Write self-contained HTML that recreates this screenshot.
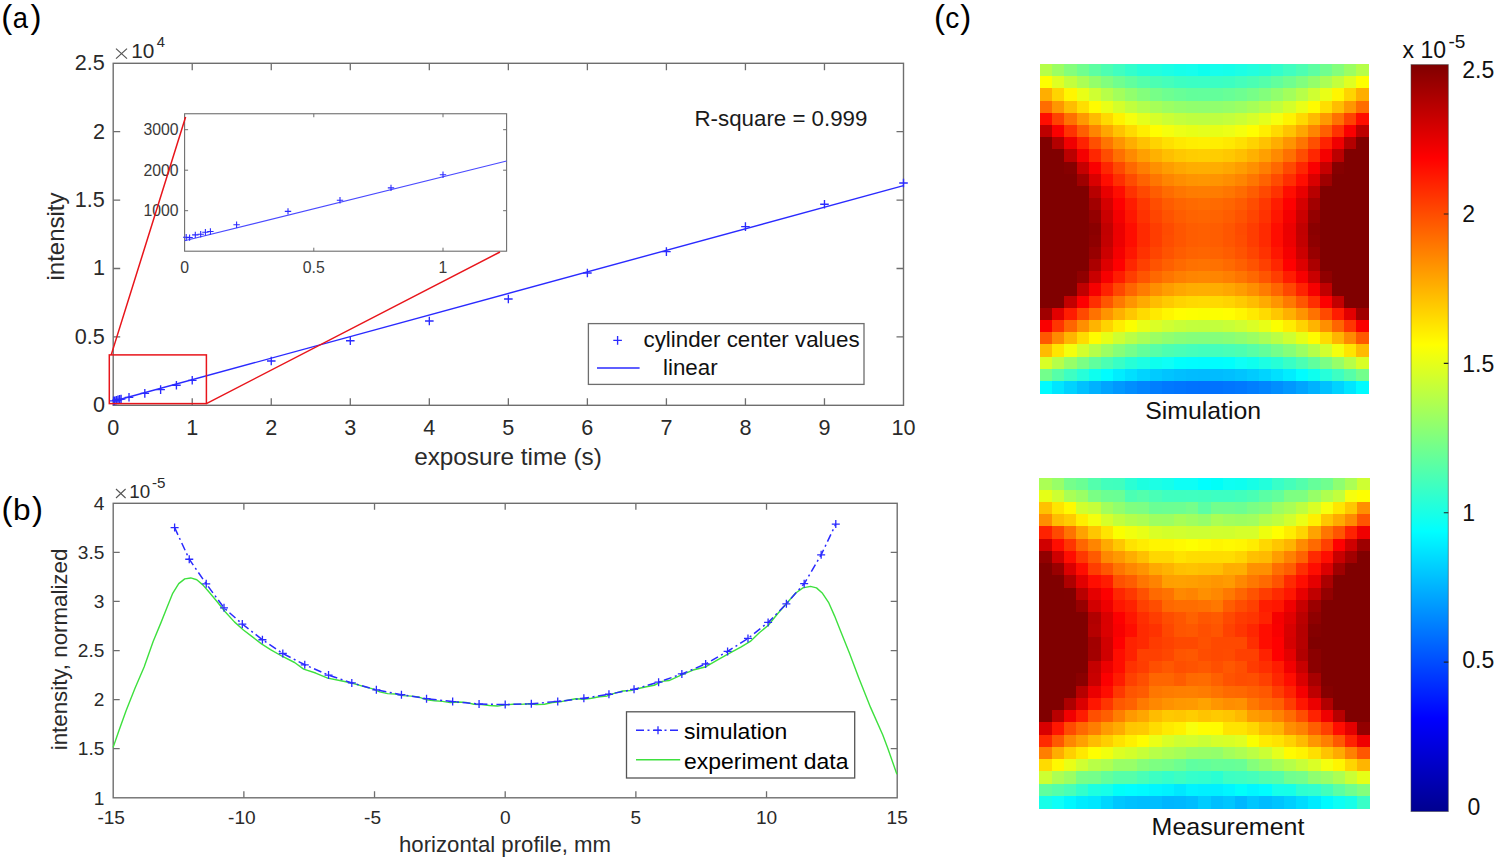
<!DOCTYPE html>
<html><head><meta charset="utf-8"><title>Figure</title>
<style>html,body{margin:0;padding:0;background:#fff}body{width:1500px;height:864px;overflow:hidden}svg{display:block}text{font-family:"Liberation Sans", sans-serif}</style>
</head><body>
<svg width="1500" height="864" viewBox="0 0 1500 864" font-family='"Liberation Sans", sans-serif'>
<rect width="1500" height="864" fill="#fff"/>
<g fill="#000"><text x="1.3" y="28.2" font-size="33">(</text><text x="12.7" y="28.2" font-size="29.5" textLength="15.2" lengthAdjust="spacingAndGlyphs">a</text><text x="30.4" y="28.2" font-size="33">)</text></g>
<g fill="#000"><text x="1.6" y="519.8" font-size="33">(</text><text x="13" y="519.8" font-size="29.5" textLength="17.6" lengthAdjust="spacingAndGlyphs">b</text><text x="32.1" y="519.8" font-size="33">)</text></g>
<g fill="#000"><text x="933.9" y="28.2" font-size="33">(</text><text x="945.2" y="28.2" font-size="29.5" textLength="14.0" lengthAdjust="spacingAndGlyphs">c</text><text x="960.2" y="28.2" font-size="33">)</text></g>
<g id="pa">
<rect x="113.2" y="63.3" width="790.3" height="342" fill="none" stroke="#6e6e6e" stroke-width="1.4"/>
<path d="M192.23 405.3v-7M192.23 63.3v7M271.26 405.3v-7M271.26 63.3v7M350.29 405.3v-7M350.29 63.3v7M429.32 405.3v-7M429.32 63.3v7M508.35 405.3v-7M508.35 63.3v7M587.38 405.3v-7M587.38 63.3v7M666.41 405.3v-7M666.41 63.3v7M745.44 405.3v-7M745.44 63.3v7M824.47 405.3v-7M824.47 63.3v7M113.2 336.9h7M903.5 336.9h-7M113.2 268.5h7M903.5 268.5h-7M113.2 200.1h7M903.5 200.1h-7M113.2 131.7h7M903.5 131.7h-7" stroke="#6e6e6e" stroke-width="1.3" fill="none"/>
<g font-size="21.6" fill="#2a2a2a" text-anchor="middle">
<text x="113.2" y="434.5">0</text>
<text x="192.23" y="434.5">1</text>
<text x="271.26" y="434.5">2</text>
<text x="350.29" y="434.5">3</text>
<text x="429.32" y="434.5">4</text>
<text x="508.35" y="434.5">5</text>
<text x="587.38" y="434.5">6</text>
<text x="666.41" y="434.5">7</text>
<text x="745.44" y="434.5">8</text>
<text x="824.47" y="434.5">9</text>
<text x="903.5" y="434.5">10</text>
</g>
<g font-size="21.6" fill="#2a2a2a" text-anchor="end">
<text x="104.9" y="412.2">0</text>
<text x="104.9" y="343.8">0.5</text>
<text x="104.9" y="275.4">1</text>
<text x="104.9" y="207">1.5</text>
<text x="104.9" y="138.6">2</text>
<text x="104.9" y="70.2">2.5</text>
</g>
<path d="M116 48.6l11 10M127 48.6l-11 10" stroke="#555" stroke-width="1.2" fill="none"/>
<text x="131.3" y="58.2" font-size="20.8" fill="#2a2a2a">10<tspan dx="2.2" dy="-10.8" font-size="14.8">4</tspan></text>
<text x="508" y="465.2" font-size="24.3" fill="#2a2a2a" text-anchor="middle">exposure time (s)</text>
<text transform="translate(64.3 236.5) rotate(-90)" font-size="24" fill="#2a2a2a" text-anchor="middle">intensity</text>
<text x="694.5" y="125.8" font-size="22.3" fill="#1a1a1a">R-square = 0.999</text>
<line x1="113.2" y1="401.3" x2="903.5" y2="185.6" stroke="#2a2aff" stroke-width="1.4"/>
<path d="M109.3 400.9h8.6M113.6 396.6v8.6M110.48 400.8h8.6M114.78 396.5v8.6M112.06 400.2h8.6M116.36 395.9v8.6M113.64 399.9h8.6M117.94 395.6v8.6M115.22 399.4h8.6M119.52 395.1v8.6M116.8 399.1h8.6M121.1 394.8v8.6M124.71 397.3h8.6M129.01 393v8.6M140.51 393.4h8.6M144.81 389.1v8.6M156.32 389.6h8.6M160.62 385.3v8.6M172.12 385.2h8.6M176.42 380.9v8.6M187.93 380.3h8.6M192.23 376v8.6M266.96 361h8.6M271.26 356.7v8.6M345.99 340.7h8.6M350.29 336.4v8.6M425.02 321h8.6M429.32 316.7v8.6M504.05 299h8.6M508.35 294.7v8.6M583.08 273h8.6M587.38 268.7v8.6M662.11 251.6h8.6M666.41 247.3v8.6M741.14 226.6h8.6M745.44 222.3v8.6M820.17 204.2h8.6M824.47 199.9v8.6M899.2 183h8.6M903.5 178.7v8.6" stroke="#2a2aff" stroke-width="1.35" fill="none"/>
<rect x="109.3" y="354.9" width="97.1" height="48.7" fill="none" stroke="#e8151b" stroke-width="1.5"/>
<rect x="184.6" y="113.75" width="322" height="137.45" fill="#fff" stroke="#6e6e6e" stroke-width="1.1"/>
<path d="M313.8 251.2v-3.5M313.8 113.75v3.5M443 251.2v-3.5M443 113.75v3.5M184.6 210.7h3.5M506.6 210.7h-3.5M184.6 170.2h3.5M506.6 170.2h-3.5M184.6 129.7h3.5M506.6 129.7h-3.5" stroke="#6e6e6e" stroke-width="1" fill="none"/>
<g font-size="15.8" fill="#3a3a3a" text-anchor="middle">
<text x="184.6" y="272.5">0</text>
<text x="313.8" y="272.5">0.5</text>
<text x="443" y="272.5">1</text>
</g>
<g font-size="15.8" fill="#3a3a3a" text-anchor="end">
<text x="178.6" y="216.3">1000</text>
<text x="178.6" y="175.8">2000</text>
<text x="178.6" y="135.3">3000</text>
</g>
<line x1="184.6" y1="240.8" x2="506.6" y2="161" stroke="#4a4aff" stroke-width="1.1"/>
<path d="M183 237.2h6.4M186.2 234v6.4M186.4 237.6h6.4M189.6 234.4v6.4M192.1 234.9h6.4M195.3 231.7v6.4M197.5 234.2h6.4M200.7 231v6.4M202.2 232.2h6.4M205.4 229v6.4M207.2 231.5h6.4M210.4 228.3v6.4M233.4 224.8h6.4M236.6 221.6v6.4M284.8 211.4h6.4M288 208.2v6.4M336.8 200.3h6.4M340 197.1v6.4M387.8 187.9h6.4M391 184.7v6.4M439.8 174.8h6.4M443 171.6v6.4" stroke="#2a2aff" stroke-width="1.1" fill="none"/>
<path d="M111.2 354.9L185.6 117M206.4 403.6L500 252" stroke="#e8151b" stroke-width="1.5" fill="none"/>
<rect x="588.4" y="323.6" width="275.6" height="60.8" fill="#fff" stroke="#6e6e6e" stroke-width="1.3"/>
<path d="M613.3 340.4h8.6M617.6 336.1v8.6" stroke="#2a2aff" stroke-width="1.35" fill="none"/>
<line x1="597" y1="368" x2="639.6" y2="368" stroke="#2a2aff" stroke-width="1.4"/>
<text x="643.5" y="347" font-size="22.35" fill="#111">cylinder center values</text>
<text x="663" y="375.4" font-size="22.35" fill="#111">linear</text>
</g>
<g id="pb">
<rect x="113.2" y="503.3" width="784" height="294.5" fill="none" stroke="#6e6e6e" stroke-width="1.4"/>
<path d="M243.87 797.8v-6.5M243.87 503.3v6.5M374.53 797.8v-6.5M374.53 503.3v6.5M505.2 797.8v-6.5M505.2 503.3v6.5M635.87 797.8v-6.5M635.87 503.3v6.5M766.53 797.8v-6.5M766.53 503.3v6.5M113.2 748.72h6.5M897.2 748.72h-6.5M113.2 699.63h6.5M897.2 699.63h-6.5M113.2 650.55h6.5M897.2 650.55h-6.5M113.2 601.47h6.5M897.2 601.47h-6.5M113.2 552.38h6.5M897.2 552.38h-6.5" stroke="#6e6e6e" stroke-width="1.3" fill="none"/>
<g font-size="19.1" fill="#2a2a2a" text-anchor="middle">
<text x="111.2" y="824.4">-15</text>
<text x="241.87" y="824.4">-10</text>
<text x="372.53" y="824.4">-5</text>
<text x="505.2" y="824.4">0</text>
<text x="635.87" y="824.4">5</text>
<text x="766.53" y="824.4">10</text>
<text x="897.2" y="824.4">15</text>
</g>
<g font-size="19.1" fill="#2a2a2a" text-anchor="end">
<text x="104.4" y="804.5">1</text>
<text x="104.4" y="755.42">1.5</text>
<text x="104.4" y="706.33">2</text>
<text x="104.4" y="657.25">2.5</text>
<text x="104.4" y="608.17">3</text>
<text x="104.4" y="559.08">3.5</text>
<text x="104.4" y="510">4</text>
</g>
<path d="M116 489l9.6 9M125.6 489l-9.6 9" stroke="#555" stroke-width="1.1" fill="none"/>
<text x="129.3" y="498.2" font-size="18.8" fill="#2a2a2a">10<tspan dx="1.8" dy="-10.5" font-size="15.2">-5</tspan></text>
<text x="505" y="852" font-size="22.2" fill="#2a2a2a" text-anchor="middle">horizontal profile, mm</text>
<text transform="translate(67.3 649.5) rotate(-90)" font-size="22.3" fill="#2a2a2a" text-anchor="middle">intensity, normalized</text>
<path d="M113.13 747.37 L118.54 731.72 L126.07 710.65 L135.09 688.08 L144.12 667.02 L153.15 641.44 L160.67 623.38 L166.69 608.34 L172.71 593.29 L178.73 583.66 L184.75 578.84 L190.77 577.94 L196.78 579.75 L202.8 584.86 L208.82 591.78 L216.35 600.81 L225.37 611.95 L234.4 621.88 L243.43 630 L252.46 636.92 L261.49 643.85 L270.51 649.56 L282.55 656.49 L294.59 662.5 L303.62 669.12 L315.65 673.04 L327.69 678.15 L339.73 680.56 L351.76 682.97 L364.08 686.62 L371.92 688.59 L379.76 691.89 L387.6 693.58 L395.44 694 L403.28 695.59 L411.12 696.12 L418.96 697.05 L426.8 699.8 L434.64 700.77 L442.48 701.4 L450.32 702.58 L458.16 701.99 L466 702.39 L473.84 704.21 L481.68 704.64 L489.52 705.47 L497.36 706.07 L505.2 704.72 L513.04 704.32 L520.88 704.35 L528.72 703.77 L536.56 704.55 L544.4 704.3 L552.24 702.52 L560.08 701.82 L567.92 700.24 L575.76 698.74 L583.6 699.27 L591.44 698.29 L599.28 696.78 L607.12 695.94 L614.96 693.18 L622.8 691.02 L630.64 690.49 L638.48 688.45 L646.32 686.81 L654.16 685.25 L662 681.38 L669.03 680.56 L681.07 675.14 L693.1 670.03 L705.14 667.02 L717.18 660.1 L729.21 653.48 L741.25 646.86 L750.28 641.44 L759.31 632.71 L768.34 625.19 L777.36 614.05 L786.39 603.82 L795.42 593.29 L802.94 587.87 L810.47 586.37 L816.49 587.87 L822.5 593.29 L828.52 602.32 L834.54 615.86 L840.56 630.91 L849.59 653.48 L858.62 677.55 L870.65 707.64 L882.69 734.73 L887.5 747.5 L896.9 774.2" stroke="#3ee03e" stroke-width="1.4" fill="none" stroke-linejoin="round"/>
<path d="M174.61 527.55 L189.25 559.25 L206.23 583.8 L224.01 607.85 L242.3 624.04 L262.42 639.75 L282.81 653.5 L304.76 664.78 L328.54 675.09 L351.8 682.94 L376.36 689.82 L401.45 694.73 L426.54 698.65 L452.67 701.6 L479.07 704.05 L505.2 704.54 L531.33 703.85 L557.73 701.4 L583.86 698.36 L608.95 694.23 L634.04 689.33 L658.6 682.16 L681.86 673.91 L705.64 664 L727.59 651.43 L747.98 638.38 L768.1 622.47 L786.39 603.82 L804.17 583.7 L821.15 554.84 L835.79 524.11" stroke="#2a2aff" stroke-width="1.5" fill="none" stroke-dasharray="8 3.5 2 3.5"/>
<path d="M170.61 527.55h8M174.61 523.55v8M185.25 559.25h8M189.25 555.25v8M202.23 583.8h8M206.23 579.8v8M220.01 607.85h8M224.01 603.85v8M238.3 624.04h8M242.3 620.04v8M258.42 639.75h8M262.42 635.75v8M278.81 653.5h8M282.81 649.5v8M300.76 664.78h8M304.76 660.78v8M324.54 675.09h8M328.54 671.09v8M347.8 682.94h8M351.8 678.94v8M372.36 689.82h8M376.36 685.82v8M397.45 694.73h8M401.45 690.73v8M422.54 698.65h8M426.54 694.65v8M448.67 701.6h8M452.67 697.6v8M475.07 704.05h8M479.07 700.05v8M501.2 704.54h8M505.2 700.54v8M527.33 703.85h8M531.33 699.85v8M553.73 701.4h8M557.73 697.4v8M579.86 698.36h8M583.86 694.36v8M604.95 694.23h8M608.95 690.23v8M630.04 689.33h8M634.04 685.33v8M654.6 682.16h8M658.6 678.16v8M677.86 673.91h8M681.86 669.91v8M701.64 664h8M705.64 660v8M723.59 651.43h8M727.59 647.43v8M743.98 638.38h8M747.98 634.38v8M764.1 622.47h8M768.1 618.47v8M782.39 603.82h8M786.39 599.82v8M800.17 583.7h8M804.17 579.7v8M817.15 554.84h8M821.15 550.84v8M831.79 524.11h8M835.79 520.11v8" stroke="#2a2aff" stroke-width="1.3" fill="none"/>
<rect x="626.5" y="711.8" width="228.2" height="66.2" fill="#fff" stroke="#555" stroke-width="1.3"/>
<line x1="636" y1="730.3" x2="680.2" y2="730.3" stroke="#2a2aff" stroke-width="1.5" stroke-dasharray="8 3.5 2 3.5"/>
<path d="M654 730.3h8M658 726.3v8" stroke="#2a2aff" stroke-width="1.3"/>
<line x1="636" y1="759.8" x2="680.2" y2="759.8" stroke="#3ee03e" stroke-width="1.5"/>
<text x="684" y="739" font-size="22.95" fill="#000">simulation</text>
<text x="684" y="769.3" font-size="22.95" fill="#000">experiment data</text>
</g>
<g id="pc">
<defs><filter id="b1" x="-2%" y="-2%" width="104%" height="104%"><feGaussianBlur stdDeviation="0.045"/></filter></defs>
<g transform="translate(1040.1 64.0) scale(12.1667 12.1926)" shape-rendering="crispEdges" filter="url(#b1)">
<rect x="0" y="0" width="1.03" height="1.03" fill="#b5ff4a"/>
<rect x="1" y="0" width="1.03" height="1.03" fill="#9bff64"/>
<rect x="2" y="0" width="1.03" height="1.03" fill="#84ff7b"/>
<rect x="3" y="0" width="1.03" height="1.03" fill="#70ff8f"/>
<rect x="4" y="0" width="1.03" height="1.03" fill="#5dffa2"/>
<rect x="5" y="0" width="1.03" height="1.03" fill="#4dffb2"/>
<rect x="6" y="0" width="1.03" height="1.03" fill="#3fffc0"/>
<rect x="7" y="0" width="1.03" height="1.03" fill="#33ffcc"/>
<rect x="8" y="0" width="1.03" height="1.03" fill="#28ffd7"/>
<rect x="9" y="0" width="1.03" height="1.03" fill="#20ffdf"/>
<rect x="10" y="0" width="1.03" height="1.03" fill="#1affe5"/>
<rect x="11" y="0" width="1.03" height="1.03" fill="#15ffea"/>
<rect x="12" y="0" width="1.03" height="1.03" fill="#12ffed"/>
<rect x="13" y="0" width="1.03" height="1.03" fill="#11ffee"/>
<rect x="14" y="0" width="1.03" height="1.03" fill="#12ffed"/>
<rect x="15" y="0" width="1.03" height="1.03" fill="#15ffea"/>
<rect x="16" y="0" width="1.03" height="1.03" fill="#1affe5"/>
<rect x="17" y="0" width="1.03" height="1.03" fill="#20ffdf"/>
<rect x="18" y="0" width="1.03" height="1.03" fill="#28ffd7"/>
<rect x="19" y="0" width="1.03" height="1.03" fill="#33ffcc"/>
<rect x="20" y="0" width="1.03" height="1.03" fill="#3fffc0"/>
<rect x="21" y="0" width="1.03" height="1.03" fill="#4dffb2"/>
<rect x="22" y="0" width="1.03" height="1.03" fill="#5dffa2"/>
<rect x="23" y="0" width="1.03" height="1.03" fill="#70ff8f"/>
<rect x="24" y="0" width="1.03" height="1.03" fill="#84ff7b"/>
<rect x="25" y="0" width="1.03" height="1.03" fill="#9bff64"/>
<rect x="26" y="0" width="1.03" height="1.03" fill="#b5ff4a"/>
<rect x="0" y="1" width="1.03" height="1.03" fill="#feff01"/>
<rect x="1" y="1" width="1.03" height="1.03" fill="#dfff20"/>
<rect x="2" y="1" width="1.03" height="1.03" fill="#c3ff3c"/>
<rect x="3" y="1" width="1.03" height="1.03" fill="#abff54"/>
<rect x="4" y="1" width="1.03" height="1.03" fill="#94ff6b"/>
<rect x="5" y="1" width="1.03" height="1.03" fill="#81ff7e"/>
<rect x="6" y="1" width="1.03" height="1.03" fill="#70ff8f"/>
<rect x="7" y="1" width="1.03" height="1.03" fill="#62ff9d"/>
<rect x="8" y="1" width="1.03" height="1.03" fill="#55ffaa"/>
<rect x="9" y="1" width="1.03" height="1.03" fill="#4cffb3"/>
<rect x="10" y="1" width="1.03" height="1.03" fill="#44ffbb"/>
<rect x="11" y="1" width="1.03" height="1.03" fill="#3effc1"/>
<rect x="12" y="1" width="1.03" height="1.03" fill="#3bffc4"/>
<rect x="13" y="1" width="1.03" height="1.03" fill="#3affc5"/>
<rect x="14" y="1" width="1.03" height="1.03" fill="#3bffc4"/>
<rect x="15" y="1" width="1.03" height="1.03" fill="#3effc1"/>
<rect x="16" y="1" width="1.03" height="1.03" fill="#44ffbb"/>
<rect x="17" y="1" width="1.03" height="1.03" fill="#4cffb3"/>
<rect x="18" y="1" width="1.03" height="1.03" fill="#55ffaa"/>
<rect x="19" y="1" width="1.03" height="1.03" fill="#62ff9d"/>
<rect x="20" y="1" width="1.03" height="1.03" fill="#70ff8f"/>
<rect x="21" y="1" width="1.03" height="1.03" fill="#81ff7e"/>
<rect x="22" y="1" width="1.03" height="1.03" fill="#94ff6b"/>
<rect x="23" y="1" width="1.03" height="1.03" fill="#abff54"/>
<rect x="24" y="1" width="1.03" height="1.03" fill="#c3ff3c"/>
<rect x="25" y="1" width="1.03" height="1.03" fill="#dfff20"/>
<rect x="26" y="1" width="1.03" height="1.03" fill="#feff01"/>
<rect x="0" y="2" width="1.03" height="1.03" fill="#ffae00"/>
<rect x="1" y="2" width="1.03" height="1.03" fill="#ffd400"/>
<rect x="2" y="2" width="1.03" height="1.03" fill="#fff600"/>
<rect x="3" y="2" width="1.03" height="1.03" fill="#e9ff16"/>
<rect x="4" y="2" width="1.03" height="1.03" fill="#cfff30"/>
<rect x="5" y="2" width="1.03" height="1.03" fill="#b7ff48"/>
<rect x="6" y="2" width="1.03" height="1.03" fill="#a3ff5c"/>
<rect x="7" y="2" width="1.03" height="1.03" fill="#92ff6d"/>
<rect x="8" y="2" width="1.03" height="1.03" fill="#83ff7c"/>
<rect x="9" y="2" width="1.03" height="1.03" fill="#77ff88"/>
<rect x="10" y="2" width="1.03" height="1.03" fill="#6eff91"/>
<rect x="11" y="2" width="1.03" height="1.03" fill="#68ff97"/>
<rect x="12" y="2" width="1.03" height="1.03" fill="#64ff9b"/>
<rect x="13" y="2" width="1.03" height="1.03" fill="#63ff9c"/>
<rect x="14" y="2" width="1.03" height="1.03" fill="#64ff9b"/>
<rect x="15" y="2" width="1.03" height="1.03" fill="#68ff97"/>
<rect x="16" y="2" width="1.03" height="1.03" fill="#6eff91"/>
<rect x="17" y="2" width="1.03" height="1.03" fill="#77ff88"/>
<rect x="18" y="2" width="1.03" height="1.03" fill="#83ff7c"/>
<rect x="19" y="2" width="1.03" height="1.03" fill="#92ff6d"/>
<rect x="20" y="2" width="1.03" height="1.03" fill="#a3ff5c"/>
<rect x="21" y="2" width="1.03" height="1.03" fill="#b7ff48"/>
<rect x="22" y="2" width="1.03" height="1.03" fill="#cfff30"/>
<rect x="23" y="2" width="1.03" height="1.03" fill="#e9ff16"/>
<rect x="24" y="2" width="1.03" height="1.03" fill="#fff600"/>
<rect x="25" y="2" width="1.03" height="1.03" fill="#ffd400"/>
<rect x="26" y="2" width="1.03" height="1.03" fill="#ffae00"/>
<rect x="0" y="3" width="1.03" height="1.03" fill="#ff6d00"/>
<rect x="1" y="3" width="1.03" height="1.03" fill="#ff9700"/>
<rect x="2" y="3" width="1.03" height="1.03" fill="#ffbd00"/>
<rect x="3" y="3" width="1.03" height="1.03" fill="#ffde00"/>
<rect x="4" y="3" width="1.03" height="1.03" fill="#fffb00"/>
<rect x="5" y="3" width="1.03" height="1.03" fill="#eaff15"/>
<rect x="6" y="3" width="1.03" height="1.03" fill="#d4ff2b"/>
<rect x="7" y="3" width="1.03" height="1.03" fill="#c1ff3e"/>
<rect x="8" y="3" width="1.03" height="1.03" fill="#b2ff4d"/>
<rect x="9" y="3" width="1.03" height="1.03" fill="#a6ff59"/>
<rect x="10" y="3" width="1.03" height="1.03" fill="#9cff63"/>
<rect x="11" y="3" width="1.03" height="1.03" fill="#95ff6a"/>
<rect x="12" y="3" width="1.03" height="1.03" fill="#91ff6e"/>
<rect x="13" y="3" width="1.03" height="1.03" fill="#90ff6f"/>
<rect x="14" y="3" width="1.03" height="1.03" fill="#91ff6e"/>
<rect x="15" y="3" width="1.03" height="1.03" fill="#95ff6a"/>
<rect x="16" y="3" width="1.03" height="1.03" fill="#9cff63"/>
<rect x="17" y="3" width="1.03" height="1.03" fill="#a6ff59"/>
<rect x="18" y="3" width="1.03" height="1.03" fill="#b2ff4d"/>
<rect x="19" y="3" width="1.03" height="1.03" fill="#c1ff3e"/>
<rect x="20" y="3" width="1.03" height="1.03" fill="#d4ff2b"/>
<rect x="21" y="3" width="1.03" height="1.03" fill="#eaff15"/>
<rect x="22" y="3" width="1.03" height="1.03" fill="#fffb00"/>
<rect x="23" y="3" width="1.03" height="1.03" fill="#ffde00"/>
<rect x="24" y="3" width="1.03" height="1.03" fill="#ffbd00"/>
<rect x="25" y="3" width="1.03" height="1.03" fill="#ff9700"/>
<rect x="26" y="3" width="1.03" height="1.03" fill="#ff6d00"/>
<rect x="0" y="4" width="1.03" height="1.03" fill="#ff0f00"/>
<rect x="1" y="4" width="1.03" height="1.03" fill="#ff4300"/>
<rect x="2" y="4" width="1.03" height="1.03" fill="#ff7100"/>
<rect x="3" y="4" width="1.03" height="1.03" fill="#ff9900"/>
<rect x="4" y="4" width="1.03" height="1.03" fill="#ffbb00"/>
<rect x="5" y="4" width="1.03" height="1.03" fill="#ffd900"/>
<rect x="6" y="4" width="1.03" height="1.03" fill="#fff300"/>
<rect x="7" y="4" width="1.03" height="1.03" fill="#f6ff09"/>
<rect x="8" y="4" width="1.03" height="1.03" fill="#e4ff1b"/>
<rect x="9" y="4" width="1.03" height="1.03" fill="#d6ff29"/>
<rect x="10" y="4" width="1.03" height="1.03" fill="#cbff34"/>
<rect x="11" y="4" width="1.03" height="1.03" fill="#c3ff3c"/>
<rect x="12" y="4" width="1.03" height="1.03" fill="#beff41"/>
<rect x="13" y="4" width="1.03" height="1.03" fill="#bdff42"/>
<rect x="14" y="4" width="1.03" height="1.03" fill="#beff41"/>
<rect x="15" y="4" width="1.03" height="1.03" fill="#c3ff3c"/>
<rect x="16" y="4" width="1.03" height="1.03" fill="#cbff34"/>
<rect x="17" y="4" width="1.03" height="1.03" fill="#d6ff29"/>
<rect x="18" y="4" width="1.03" height="1.03" fill="#e4ff1b"/>
<rect x="19" y="4" width="1.03" height="1.03" fill="#f6ff09"/>
<rect x="20" y="4" width="1.03" height="1.03" fill="#fff300"/>
<rect x="21" y="4" width="1.03" height="1.03" fill="#ffd900"/>
<rect x="22" y="4" width="1.03" height="1.03" fill="#ffbb00"/>
<rect x="23" y="4" width="1.03" height="1.03" fill="#ff9900"/>
<rect x="24" y="4" width="1.03" height="1.03" fill="#ff7100"/>
<rect x="25" y="4" width="1.03" height="1.03" fill="#ff4300"/>
<rect x="26" y="4" width="1.03" height="1.03" fill="#ff0f00"/>
<rect x="0" y="5" width="1.03" height="1.03" fill="#bd0000"/>
<rect x="1" y="5" width="1.03" height="1.03" fill="#fa0000"/>
<rect x="2" y="5" width="1.03" height="1.03" fill="#ff3000"/>
<rect x="3" y="5" width="1.03" height="1.03" fill="#ff5e00"/>
<rect x="4" y="5" width="1.03" height="1.03" fill="#ff8500"/>
<rect x="5" y="5" width="1.03" height="1.03" fill="#ffa600"/>
<rect x="6" y="5" width="1.03" height="1.03" fill="#ffc300"/>
<rect x="7" y="5" width="1.03" height="1.03" fill="#ffda00"/>
<rect x="8" y="5" width="1.03" height="1.03" fill="#ffee00"/>
<rect x="9" y="5" width="1.03" height="1.03" fill="#fffe00"/>
<rect x="10" y="5" width="1.03" height="1.03" fill="#f5ff0a"/>
<rect x="11" y="5" width="1.03" height="1.03" fill="#ecff13"/>
<rect x="12" y="5" width="1.03" height="1.03" fill="#e7ff18"/>
<rect x="13" y="5" width="1.03" height="1.03" fill="#e5ff1a"/>
<rect x="14" y="5" width="1.03" height="1.03" fill="#e7ff18"/>
<rect x="15" y="5" width="1.03" height="1.03" fill="#ecff13"/>
<rect x="16" y="5" width="1.03" height="1.03" fill="#f5ff0a"/>
<rect x="17" y="5" width="1.03" height="1.03" fill="#fffe00"/>
<rect x="18" y="5" width="1.03" height="1.03" fill="#ffee00"/>
<rect x="19" y="5" width="1.03" height="1.03" fill="#ffda00"/>
<rect x="20" y="5" width="1.03" height="1.03" fill="#ffc300"/>
<rect x="21" y="5" width="1.03" height="1.03" fill="#ffa600"/>
<rect x="22" y="5" width="1.03" height="1.03" fill="#ff8500"/>
<rect x="23" y="5" width="1.03" height="1.03" fill="#ff5e00"/>
<rect x="24" y="5" width="1.03" height="1.03" fill="#ff3000"/>
<rect x="25" y="5" width="1.03" height="1.03" fill="#fa0000"/>
<rect x="26" y="5" width="1.03" height="1.03" fill="#bd0000"/>
<rect x="0" y="6" width="1.03" height="1.03" fill="#800000"/>
<rect x="1" y="6" width="1.03" height="1.03" fill="#b30000"/>
<rect x="2" y="6" width="1.03" height="1.03" fill="#f00000"/>
<rect x="3" y="6" width="1.03" height="1.03" fill="#ff2400"/>
<rect x="4" y="6" width="1.03" height="1.03" fill="#ff5000"/>
<rect x="5" y="6" width="1.03" height="1.03" fill="#ff7500"/>
<rect x="6" y="6" width="1.03" height="1.03" fill="#ff9400"/>
<rect x="7" y="6" width="1.03" height="1.03" fill="#ffad00"/>
<rect x="8" y="6" width="1.03" height="1.03" fill="#ffc200"/>
<rect x="9" y="6" width="1.03" height="1.03" fill="#ffd300"/>
<rect x="10" y="6" width="1.03" height="1.03" fill="#ffe000"/>
<rect x="11" y="6" width="1.03" height="1.03" fill="#ffe900"/>
<rect x="12" y="6" width="1.03" height="1.03" fill="#ffee00"/>
<rect x="13" y="6" width="1.03" height="1.03" fill="#fff000"/>
<rect x="14" y="6" width="1.03" height="1.03" fill="#ffee00"/>
<rect x="15" y="6" width="1.03" height="1.03" fill="#ffe900"/>
<rect x="16" y="6" width="1.03" height="1.03" fill="#ffe000"/>
<rect x="17" y="6" width="1.03" height="1.03" fill="#ffd300"/>
<rect x="18" y="6" width="1.03" height="1.03" fill="#ffc200"/>
<rect x="19" y="6" width="1.03" height="1.03" fill="#ffad00"/>
<rect x="20" y="6" width="1.03" height="1.03" fill="#ff9400"/>
<rect x="21" y="6" width="1.03" height="1.03" fill="#ff7500"/>
<rect x="22" y="6" width="1.03" height="1.03" fill="#ff5000"/>
<rect x="23" y="6" width="1.03" height="1.03" fill="#ff2400"/>
<rect x="24" y="6" width="1.03" height="1.03" fill="#f00000"/>
<rect x="25" y="6" width="1.03" height="1.03" fill="#b30000"/>
<rect x="26" y="6" width="1.03" height="1.03" fill="#800000"/>
<rect x="0" y="7" width="2.03" height="1.03" fill="#800000"/>
<rect x="2" y="7" width="1.03" height="1.03" fill="#bb0000"/>
<rect x="3" y="7" width="1.03" height="1.03" fill="#f50000"/>
<rect x="4" y="7" width="1.03" height="1.03" fill="#ff2600"/>
<rect x="5" y="7" width="1.03" height="1.03" fill="#ff4d00"/>
<rect x="6" y="7" width="1.03" height="1.03" fill="#ff6f00"/>
<rect x="7" y="7" width="1.03" height="1.03" fill="#ff8a00"/>
<rect x="8" y="7" width="1.03" height="1.03" fill="#ffa000"/>
<rect x="9" y="7" width="1.03" height="1.03" fill="#ffb100"/>
<rect x="10" y="7" width="1.03" height="1.03" fill="#ffbf00"/>
<rect x="11" y="7" width="1.03" height="1.03" fill="#ffc800"/>
<rect x="12" y="7" width="1.03" height="1.03" fill="#ffcd00"/>
<rect x="13" y="7" width="1.03" height="1.03" fill="#ffcf00"/>
<rect x="14" y="7" width="1.03" height="1.03" fill="#ffcd00"/>
<rect x="15" y="7" width="1.03" height="1.03" fill="#ffc800"/>
<rect x="16" y="7" width="1.03" height="1.03" fill="#ffbf00"/>
<rect x="17" y="7" width="1.03" height="1.03" fill="#ffb100"/>
<rect x="18" y="7" width="1.03" height="1.03" fill="#ffa000"/>
<rect x="19" y="7" width="1.03" height="1.03" fill="#ff8a00"/>
<rect x="20" y="7" width="1.03" height="1.03" fill="#ff6f00"/>
<rect x="21" y="7" width="1.03" height="1.03" fill="#ff4d00"/>
<rect x="22" y="7" width="1.03" height="1.03" fill="#ff2600"/>
<rect x="23" y="7" width="1.03" height="1.03" fill="#f50000"/>
<rect x="24" y="7" width="1.03" height="1.03" fill="#bb0000"/>
<rect x="25" y="7" width="2.03" height="1.03" fill="#800000"/>
<rect x="0" y="8" width="2.03" height="1.03" fill="#800000"/>
<rect x="2" y="8" width="1.03" height="1.03" fill="#860000"/>
<rect x="3" y="8" width="1.03" height="1.03" fill="#c60000"/>
<rect x="4" y="8" width="1.03" height="1.03" fill="#fa0000"/>
<rect x="5" y="8" width="1.03" height="1.03" fill="#ff2600"/>
<rect x="6" y="8" width="1.03" height="1.03" fill="#ff4a00"/>
<rect x="7" y="8" width="1.03" height="1.03" fill="#ff6700"/>
<rect x="8" y="8" width="1.03" height="1.03" fill="#ff7e00"/>
<rect x="9" y="8" width="1.03" height="1.03" fill="#ff9000"/>
<rect x="10" y="8" width="1.03" height="1.03" fill="#ff9d00"/>
<rect x="11" y="8" width="1.03" height="1.03" fill="#ffa700"/>
<rect x="12" y="8" width="1.03" height="1.03" fill="#ffad00"/>
<rect x="13" y="8" width="1.03" height="1.03" fill="#ffae00"/>
<rect x="14" y="8" width="1.03" height="1.03" fill="#ffad00"/>
<rect x="15" y="8" width="1.03" height="1.03" fill="#ffa700"/>
<rect x="16" y="8" width="1.03" height="1.03" fill="#ff9d00"/>
<rect x="17" y="8" width="1.03" height="1.03" fill="#ff9000"/>
<rect x="18" y="8" width="1.03" height="1.03" fill="#ff7e00"/>
<rect x="19" y="8" width="1.03" height="1.03" fill="#ff6700"/>
<rect x="20" y="8" width="1.03" height="1.03" fill="#ff4a00"/>
<rect x="21" y="8" width="1.03" height="1.03" fill="#ff2600"/>
<rect x="22" y="8" width="1.03" height="1.03" fill="#fa0000"/>
<rect x="23" y="8" width="1.03" height="1.03" fill="#c60000"/>
<rect x="24" y="8" width="1.03" height="1.03" fill="#860000"/>
<rect x="25" y="8" width="2.03" height="1.03" fill="#800000"/>
<rect x="0" y="9" width="3.03" height="1.03" fill="#800000"/>
<rect x="3" y="9" width="1.03" height="1.03" fill="#9f0000"/>
<rect x="4" y="9" width="1.03" height="1.03" fill="#d90000"/>
<rect x="5" y="9" width="1.03" height="1.03" fill="#ff0800"/>
<rect x="6" y="9" width="1.03" height="1.03" fill="#ff2d00"/>
<rect x="7" y="9" width="1.03" height="1.03" fill="#ff4c00"/>
<rect x="8" y="9" width="1.03" height="1.03" fill="#ff6400"/>
<rect x="9" y="9" width="1.03" height="1.03" fill="#ff7600"/>
<rect x="10" y="9" width="1.03" height="1.03" fill="#ff8500"/>
<rect x="11" y="9" width="1.03" height="1.03" fill="#ff8e00"/>
<rect x="12" y="9" width="1.03" height="1.03" fill="#ff9400"/>
<rect x="13" y="9" width="1.03" height="1.03" fill="#ff9600"/>
<rect x="14" y="9" width="1.03" height="1.03" fill="#ff9400"/>
<rect x="15" y="9" width="1.03" height="1.03" fill="#ff8e00"/>
<rect x="16" y="9" width="1.03" height="1.03" fill="#ff8500"/>
<rect x="17" y="9" width="1.03" height="1.03" fill="#ff7600"/>
<rect x="18" y="9" width="1.03" height="1.03" fill="#ff6400"/>
<rect x="19" y="9" width="1.03" height="1.03" fill="#ff4c00"/>
<rect x="20" y="9" width="1.03" height="1.03" fill="#ff2d00"/>
<rect x="21" y="9" width="1.03" height="1.03" fill="#ff0800"/>
<rect x="22" y="9" width="1.03" height="1.03" fill="#d90000"/>
<rect x="23" y="9" width="1.03" height="1.03" fill="#9f0000"/>
<rect x="24" y="9" width="3.03" height="1.03" fill="#800000"/>
<rect x="0" y="10" width="4.03" height="1.03" fill="#800000"/>
<rect x="4" y="10" width="1.03" height="1.03" fill="#b80000"/>
<rect x="5" y="10" width="1.03" height="1.03" fill="#e90000"/>
<rect x="6" y="10" width="1.03" height="1.03" fill="#ff1100"/>
<rect x="7" y="10" width="1.03" height="1.03" fill="#ff3100"/>
<rect x="8" y="10" width="1.03" height="1.03" fill="#ff4a00"/>
<rect x="9" y="10" width="1.03" height="1.03" fill="#ff5d00"/>
<rect x="10" y="10" width="1.03" height="1.03" fill="#ff6c00"/>
<rect x="11" y="10" width="1.03" height="1.03" fill="#ff7600"/>
<rect x="12" y="10" width="1.03" height="1.03" fill="#ff7c00"/>
<rect x="13" y="10" width="1.03" height="1.03" fill="#ff7d00"/>
<rect x="14" y="10" width="1.03" height="1.03" fill="#ff7c00"/>
<rect x="15" y="10" width="1.03" height="1.03" fill="#ff7600"/>
<rect x="16" y="10" width="1.03" height="1.03" fill="#ff6c00"/>
<rect x="17" y="10" width="1.03" height="1.03" fill="#ff5d00"/>
<rect x="18" y="10" width="1.03" height="1.03" fill="#ff4a00"/>
<rect x="19" y="10" width="1.03" height="1.03" fill="#ff3100"/>
<rect x="20" y="10" width="1.03" height="1.03" fill="#ff1100"/>
<rect x="21" y="10" width="1.03" height="1.03" fill="#e90000"/>
<rect x="22" y="10" width="1.03" height="1.03" fill="#b80000"/>
<rect x="23" y="10" width="4.03" height="1.03" fill="#800000"/>
<rect x="0" y="11" width="4.03" height="1.03" fill="#800000"/>
<rect x="4" y="11" width="1.03" height="1.03" fill="#a20000"/>
<rect x="5" y="11" width="1.03" height="1.03" fill="#d50000"/>
<rect x="6" y="11" width="1.03" height="1.03" fill="#fe0000"/>
<rect x="7" y="11" width="1.03" height="1.03" fill="#ff1f00"/>
<rect x="8" y="11" width="1.03" height="1.03" fill="#ff3900"/>
<rect x="9" y="11" width="1.03" height="1.03" fill="#ff4d00"/>
<rect x="10" y="11" width="1.03" height="1.03" fill="#ff5b00"/>
<rect x="11" y="11" width="1.03" height="1.03" fill="#ff6500"/>
<rect x="12" y="11" width="1.03" height="1.03" fill="#ff6b00"/>
<rect x="13" y="11" width="1.03" height="1.03" fill="#ff6d00"/>
<rect x="14" y="11" width="1.03" height="1.03" fill="#ff6b00"/>
<rect x="15" y="11" width="1.03" height="1.03" fill="#ff6500"/>
<rect x="16" y="11" width="1.03" height="1.03" fill="#ff5b00"/>
<rect x="17" y="11" width="1.03" height="1.03" fill="#ff4d00"/>
<rect x="18" y="11" width="1.03" height="1.03" fill="#ff3900"/>
<rect x="19" y="11" width="1.03" height="1.03" fill="#ff1f00"/>
<rect x="20" y="11" width="1.03" height="1.03" fill="#fe0000"/>
<rect x="21" y="11" width="1.03" height="1.03" fill="#d50000"/>
<rect x="22" y="11" width="1.03" height="1.03" fill="#a20000"/>
<rect x="23" y="11" width="4.03" height="1.03" fill="#800000"/>
<rect x="0" y="12" width="4.03" height="1.03" fill="#800000"/>
<rect x="4" y="12" width="1.03" height="1.03" fill="#940000"/>
<rect x="5" y="12" width="1.03" height="1.03" fill="#ca0000"/>
<rect x="6" y="12" width="1.03" height="1.03" fill="#f40000"/>
<rect x="7" y="12" width="1.03" height="1.03" fill="#ff1600"/>
<rect x="8" y="12" width="1.03" height="1.03" fill="#ff3000"/>
<rect x="9" y="12" width="1.03" height="1.03" fill="#ff4400"/>
<rect x="10" y="12" width="1.03" height="1.03" fill="#ff5300"/>
<rect x="11" y="12" width="1.03" height="1.03" fill="#ff5d00"/>
<rect x="12" y="12" width="1.03" height="1.03" fill="#ff6300"/>
<rect x="13" y="12" width="1.03" height="1.03" fill="#ff6500"/>
<rect x="14" y="12" width="1.03" height="1.03" fill="#ff6300"/>
<rect x="15" y="12" width="1.03" height="1.03" fill="#ff5d00"/>
<rect x="16" y="12" width="1.03" height="1.03" fill="#ff5300"/>
<rect x="17" y="12" width="1.03" height="1.03" fill="#ff4400"/>
<rect x="18" y="12" width="1.03" height="1.03" fill="#ff3000"/>
<rect x="19" y="12" width="1.03" height="1.03" fill="#ff1600"/>
<rect x="20" y="12" width="1.03" height="1.03" fill="#f40000"/>
<rect x="21" y="12" width="1.03" height="1.03" fill="#ca0000"/>
<rect x="22" y="12" width="1.03" height="1.03" fill="#940000"/>
<rect x="23" y="12" width="4.03" height="1.03" fill="#800000"/>
<rect x="0" y="13" width="4.03" height="1.03" fill="#800000"/>
<rect x="4" y="13" width="1.03" height="1.03" fill="#8a0000"/>
<rect x="5" y="13" width="1.03" height="1.03" fill="#c10000"/>
<rect x="6" y="13" width="1.03" height="1.03" fill="#ec0000"/>
<rect x="7" y="13" width="1.03" height="1.03" fill="#ff0f00"/>
<rect x="8" y="13" width="1.03" height="1.03" fill="#ff2900"/>
<rect x="9" y="13" width="1.03" height="1.03" fill="#ff3d00"/>
<rect x="10" y="13" width="1.03" height="1.03" fill="#ff4c00"/>
<rect x="11" y="13" width="1.03" height="1.03" fill="#ff5700"/>
<rect x="12" y="13" width="1.03" height="1.03" fill="#ff5d00"/>
<rect x="13" y="13" width="1.03" height="1.03" fill="#ff5f00"/>
<rect x="14" y="13" width="1.03" height="1.03" fill="#ff5d00"/>
<rect x="15" y="13" width="1.03" height="1.03" fill="#ff5700"/>
<rect x="16" y="13" width="1.03" height="1.03" fill="#ff4c00"/>
<rect x="17" y="13" width="1.03" height="1.03" fill="#ff3d00"/>
<rect x="18" y="13" width="1.03" height="1.03" fill="#ff2900"/>
<rect x="19" y="13" width="1.03" height="1.03" fill="#ff0f00"/>
<rect x="20" y="13" width="1.03" height="1.03" fill="#ec0000"/>
<rect x="21" y="13" width="1.03" height="1.03" fill="#c10000"/>
<rect x="22" y="13" width="1.03" height="1.03" fill="#8a0000"/>
<rect x="23" y="13" width="4.03" height="1.03" fill="#800000"/>
<rect x="0" y="14" width="4.03" height="1.03" fill="#800000"/>
<rect x="4" y="14" width="1.03" height="1.03" fill="#8e0000"/>
<rect x="5" y="14" width="1.03" height="1.03" fill="#c30000"/>
<rect x="6" y="14" width="1.03" height="1.03" fill="#ed0000"/>
<rect x="7" y="14" width="1.03" height="1.03" fill="#ff1000"/>
<rect x="8" y="14" width="1.03" height="1.03" fill="#ff2a00"/>
<rect x="9" y="14" width="1.03" height="1.03" fill="#ff3e00"/>
<rect x="10" y="14" width="1.03" height="1.03" fill="#ff4d00"/>
<rect x="11" y="14" width="1.03" height="1.03" fill="#ff5700"/>
<rect x="12" y="14" width="1.03" height="1.03" fill="#ff5d00"/>
<rect x="13" y="14" width="1.03" height="1.03" fill="#ff5f00"/>
<rect x="14" y="14" width="1.03" height="1.03" fill="#ff5d00"/>
<rect x="15" y="14" width="1.03" height="1.03" fill="#ff5700"/>
<rect x="16" y="14" width="1.03" height="1.03" fill="#ff4d00"/>
<rect x="17" y="14" width="1.03" height="1.03" fill="#ff3e00"/>
<rect x="18" y="14" width="1.03" height="1.03" fill="#ff2a00"/>
<rect x="19" y="14" width="1.03" height="1.03" fill="#ff1000"/>
<rect x="20" y="14" width="1.03" height="1.03" fill="#ed0000"/>
<rect x="21" y="14" width="1.03" height="1.03" fill="#c30000"/>
<rect x="22" y="14" width="1.03" height="1.03" fill="#8e0000"/>
<rect x="23" y="14" width="4.03" height="1.03" fill="#800000"/>
<rect x="0" y="15" width="4.03" height="1.03" fill="#800000"/>
<rect x="4" y="15" width="1.03" height="1.03" fill="#980000"/>
<rect x="5" y="15" width="1.03" height="1.03" fill="#cc0000"/>
<rect x="6" y="15" width="1.03" height="1.03" fill="#f50000"/>
<rect x="7" y="15" width="1.03" height="1.03" fill="#ff1700"/>
<rect x="8" y="15" width="1.03" height="1.03" fill="#ff3000"/>
<rect x="9" y="15" width="1.03" height="1.03" fill="#ff4400"/>
<rect x="10" y="15" width="1.03" height="1.03" fill="#ff5300"/>
<rect x="11" y="15" width="1.03" height="1.03" fill="#ff5d00"/>
<rect x="12" y="15" width="1.03" height="1.03" fill="#ff6300"/>
<rect x="13" y="15" width="1.03" height="1.03" fill="#ff6500"/>
<rect x="14" y="15" width="1.03" height="1.03" fill="#ff6300"/>
<rect x="15" y="15" width="1.03" height="1.03" fill="#ff5d00"/>
<rect x="16" y="15" width="1.03" height="1.03" fill="#ff5300"/>
<rect x="17" y="15" width="1.03" height="1.03" fill="#ff4400"/>
<rect x="18" y="15" width="1.03" height="1.03" fill="#ff3000"/>
<rect x="19" y="15" width="1.03" height="1.03" fill="#ff1700"/>
<rect x="20" y="15" width="1.03" height="1.03" fill="#f50000"/>
<rect x="21" y="15" width="1.03" height="1.03" fill="#cc0000"/>
<rect x="22" y="15" width="1.03" height="1.03" fill="#980000"/>
<rect x="23" y="15" width="4.03" height="1.03" fill="#800000"/>
<rect x="0" y="16" width="4.03" height="1.03" fill="#800000"/>
<rect x="4" y="16" width="1.03" height="1.03" fill="#ab0000"/>
<rect x="5" y="16" width="1.03" height="1.03" fill="#dd0000"/>
<rect x="6" y="16" width="1.03" height="1.03" fill="#ff0600"/>
<rect x="7" y="16" width="1.03" height="1.03" fill="#ff2600"/>
<rect x="8" y="16" width="1.03" height="1.03" fill="#ff3f00"/>
<rect x="9" y="16" width="1.03" height="1.03" fill="#ff5300"/>
<rect x="10" y="16" width="1.03" height="1.03" fill="#ff6100"/>
<rect x="11" y="16" width="1.03" height="1.03" fill="#ff6b00"/>
<rect x="12" y="16" width="1.03" height="1.03" fill="#ff7100"/>
<rect x="13" y="16" width="1.03" height="1.03" fill="#ff7300"/>
<rect x="14" y="16" width="1.03" height="1.03" fill="#ff7100"/>
<rect x="15" y="16" width="1.03" height="1.03" fill="#ff6b00"/>
<rect x="16" y="16" width="1.03" height="1.03" fill="#ff6100"/>
<rect x="17" y="16" width="1.03" height="1.03" fill="#ff5300"/>
<rect x="18" y="16" width="1.03" height="1.03" fill="#ff3f00"/>
<rect x="19" y="16" width="1.03" height="1.03" fill="#ff2600"/>
<rect x="20" y="16" width="1.03" height="1.03" fill="#ff0600"/>
<rect x="21" y="16" width="1.03" height="1.03" fill="#dd0000"/>
<rect x="22" y="16" width="1.03" height="1.03" fill="#ab0000"/>
<rect x="23" y="16" width="4.03" height="1.03" fill="#800000"/>
<rect x="0" y="17" width="3.03" height="1.03" fill="#800000"/>
<rect x="3" y="17" width="1.03" height="1.03" fill="#900000"/>
<rect x="4" y="17" width="1.03" height="1.03" fill="#c90000"/>
<rect x="5" y="17" width="1.03" height="1.03" fill="#f70000"/>
<rect x="6" y="17" width="1.03" height="1.03" fill="#ff1e00"/>
<rect x="7" y="17" width="1.03" height="1.03" fill="#ff3c00"/>
<rect x="8" y="17" width="1.03" height="1.03" fill="#ff5400"/>
<rect x="9" y="17" width="1.03" height="1.03" fill="#ff6700"/>
<rect x="10" y="17" width="1.03" height="1.03" fill="#ff7500"/>
<rect x="11" y="17" width="1.03" height="1.03" fill="#ff7f00"/>
<rect x="12" y="17" width="1.03" height="1.03" fill="#ff8500"/>
<rect x="13" y="17" width="1.03" height="1.03" fill="#ff8700"/>
<rect x="14" y="17" width="1.03" height="1.03" fill="#ff8500"/>
<rect x="15" y="17" width="1.03" height="1.03" fill="#ff7f00"/>
<rect x="16" y="17" width="1.03" height="1.03" fill="#ff7500"/>
<rect x="17" y="17" width="1.03" height="1.03" fill="#ff6700"/>
<rect x="18" y="17" width="1.03" height="1.03" fill="#ff5400"/>
<rect x="19" y="17" width="1.03" height="1.03" fill="#ff3c00"/>
<rect x="20" y="17" width="1.03" height="1.03" fill="#ff1e00"/>
<rect x="21" y="17" width="1.03" height="1.03" fill="#f70000"/>
<rect x="22" y="17" width="1.03" height="1.03" fill="#c90000"/>
<rect x="23" y="17" width="1.03" height="1.03" fill="#900000"/>
<rect x="24" y="17" width="3.03" height="1.03" fill="#800000"/>
<rect x="0" y="18" width="3.03" height="1.03" fill="#800000"/>
<rect x="3" y="18" width="1.03" height="1.03" fill="#c00000"/>
<rect x="4" y="18" width="1.03" height="1.03" fill="#f60000"/>
<rect x="5" y="18" width="1.03" height="1.03" fill="#ff2300"/>
<rect x="6" y="18" width="1.03" height="1.03" fill="#ff4700"/>
<rect x="7" y="18" width="1.03" height="1.03" fill="#ff6500"/>
<rect x="8" y="18" width="1.03" height="1.03" fill="#ff7c00"/>
<rect x="9" y="18" width="1.03" height="1.03" fill="#ff8f00"/>
<rect x="10" y="18" width="1.03" height="1.03" fill="#ff9d00"/>
<rect x="11" y="18" width="1.03" height="1.03" fill="#ffa700"/>
<rect x="12" y="18" width="1.03" height="1.03" fill="#ffad00"/>
<rect x="13" y="18" width="1.03" height="1.03" fill="#ffae00"/>
<rect x="14" y="18" width="1.03" height="1.03" fill="#ffad00"/>
<rect x="15" y="18" width="1.03" height="1.03" fill="#ffa700"/>
<rect x="16" y="18" width="1.03" height="1.03" fill="#ff9d00"/>
<rect x="17" y="18" width="1.03" height="1.03" fill="#ff8f00"/>
<rect x="18" y="18" width="1.03" height="1.03" fill="#ff7c00"/>
<rect x="19" y="18" width="1.03" height="1.03" fill="#ff6500"/>
<rect x="20" y="18" width="1.03" height="1.03" fill="#ff4700"/>
<rect x="21" y="18" width="1.03" height="1.03" fill="#ff2300"/>
<rect x="22" y="18" width="1.03" height="1.03" fill="#f60000"/>
<rect x="23" y="18" width="1.03" height="1.03" fill="#c00000"/>
<rect x="24" y="18" width="3.03" height="1.03" fill="#800000"/>
<rect x="0" y="19" width="2.03" height="1.03" fill="#800000"/>
<rect x="2" y="19" width="1.03" height="1.03" fill="#c20000"/>
<rect x="3" y="19" width="1.03" height="1.03" fill="#fd0000"/>
<rect x="4" y="19" width="1.03" height="1.03" fill="#ff2f00"/>
<rect x="5" y="19" width="1.03" height="1.03" fill="#ff5700"/>
<rect x="6" y="19" width="1.03" height="1.03" fill="#ff7900"/>
<rect x="7" y="19" width="1.03" height="1.03" fill="#ff9500"/>
<rect x="8" y="19" width="1.03" height="1.03" fill="#ffab00"/>
<rect x="9" y="19" width="1.03" height="1.03" fill="#ffbd00"/>
<rect x="10" y="19" width="1.03" height="1.03" fill="#ffca00"/>
<rect x="11" y="19" width="1.03" height="1.03" fill="#ffd400"/>
<rect x="12" y="19" width="1.03" height="1.03" fill="#ffd900"/>
<rect x="13" y="19" width="1.03" height="1.03" fill="#ffdb00"/>
<rect x="14" y="19" width="1.03" height="1.03" fill="#ffd900"/>
<rect x="15" y="19" width="1.03" height="1.03" fill="#ffd400"/>
<rect x="16" y="19" width="1.03" height="1.03" fill="#ffca00"/>
<rect x="17" y="19" width="1.03" height="1.03" fill="#ffbd00"/>
<rect x="18" y="19" width="1.03" height="1.03" fill="#ffab00"/>
<rect x="19" y="19" width="1.03" height="1.03" fill="#ff9500"/>
<rect x="20" y="19" width="1.03" height="1.03" fill="#ff7900"/>
<rect x="21" y="19" width="1.03" height="1.03" fill="#ff5700"/>
<rect x="22" y="19" width="1.03" height="1.03" fill="#ff2f00"/>
<rect x="23" y="19" width="1.03" height="1.03" fill="#fd0000"/>
<rect x="24" y="19" width="1.03" height="1.03" fill="#c20000"/>
<rect x="25" y="19" width="2.03" height="1.03" fill="#800000"/>
<rect x="0" y="20" width="1.03" height="1.03" fill="#a00000"/>
<rect x="1" y="20" width="1.03" height="1.03" fill="#e20000"/>
<rect x="2" y="20" width="1.03" height="1.03" fill="#ff1b00"/>
<rect x="3" y="20" width="1.03" height="1.03" fill="#ff4a00"/>
<rect x="4" y="20" width="1.03" height="1.03" fill="#ff7200"/>
<rect x="5" y="20" width="1.03" height="1.03" fill="#ff9400"/>
<rect x="6" y="20" width="1.03" height="1.03" fill="#ffb000"/>
<rect x="7" y="20" width="1.03" height="1.03" fill="#ffc700"/>
<rect x="8" y="20" width="1.03" height="1.03" fill="#ffdb00"/>
<rect x="9" y="20" width="1.03" height="1.03" fill="#ffea00"/>
<rect x="10" y="20" width="1.03" height="1.03" fill="#fff600"/>
<rect x="11" y="20" width="1.03" height="1.03" fill="#fffe00"/>
<rect x="12" y="20" width="1.03" height="1.03" fill="#fcff03"/>
<rect x="13" y="20" width="1.03" height="1.03" fill="#faff05"/>
<rect x="14" y="20" width="1.03" height="1.03" fill="#fcff03"/>
<rect x="15" y="20" width="1.03" height="1.03" fill="#fffe00"/>
<rect x="16" y="20" width="1.03" height="1.03" fill="#fff600"/>
<rect x="17" y="20" width="1.03" height="1.03" fill="#ffea00"/>
<rect x="18" y="20" width="1.03" height="1.03" fill="#ffdb00"/>
<rect x="19" y="20" width="1.03" height="1.03" fill="#ffc700"/>
<rect x="20" y="20" width="1.03" height="1.03" fill="#ffb000"/>
<rect x="21" y="20" width="1.03" height="1.03" fill="#ff9400"/>
<rect x="22" y="20" width="1.03" height="1.03" fill="#ff7200"/>
<rect x="23" y="20" width="1.03" height="1.03" fill="#ff4a00"/>
<rect x="24" y="20" width="1.03" height="1.03" fill="#ff1b00"/>
<rect x="25" y="20" width="1.03" height="1.03" fill="#e20000"/>
<rect x="26" y="20" width="1.03" height="1.03" fill="#a00000"/>
<rect x="0" y="21" width="1.03" height="1.03" fill="#fa0000"/>
<rect x="1" y="21" width="1.03" height="1.03" fill="#ff3400"/>
<rect x="2" y="21" width="1.03" height="1.03" fill="#ff6500"/>
<rect x="3" y="21" width="1.03" height="1.03" fill="#ff8f00"/>
<rect x="4" y="21" width="1.03" height="1.03" fill="#ffb400"/>
<rect x="5" y="21" width="1.03" height="1.03" fill="#ffd300"/>
<rect x="6" y="21" width="1.03" height="1.03" fill="#ffed00"/>
<rect x="7" y="21" width="1.03" height="1.03" fill="#fbff04"/>
<rect x="8" y="21" width="1.03" height="1.03" fill="#e8ff17"/>
<rect x="9" y="21" width="1.03" height="1.03" fill="#daff25"/>
<rect x="10" y="21" width="1.03" height="1.03" fill="#cfff30"/>
<rect x="11" y="21" width="1.03" height="1.03" fill="#c7ff38"/>
<rect x="12" y="21" width="1.03" height="1.03" fill="#c2ff3d"/>
<rect x="13" y="21" width="1.03" height="1.03" fill="#c1ff3e"/>
<rect x="14" y="21" width="1.03" height="1.03" fill="#c2ff3d"/>
<rect x="15" y="21" width="1.03" height="1.03" fill="#c7ff38"/>
<rect x="16" y="21" width="1.03" height="1.03" fill="#cfff30"/>
<rect x="17" y="21" width="1.03" height="1.03" fill="#daff25"/>
<rect x="18" y="21" width="1.03" height="1.03" fill="#e8ff17"/>
<rect x="19" y="21" width="1.03" height="1.03" fill="#fbff04"/>
<rect x="20" y="21" width="1.03" height="1.03" fill="#ffed00"/>
<rect x="21" y="21" width="1.03" height="1.03" fill="#ffd300"/>
<rect x="22" y="21" width="1.03" height="1.03" fill="#ffb400"/>
<rect x="23" y="21" width="1.03" height="1.03" fill="#ff8f00"/>
<rect x="24" y="21" width="1.03" height="1.03" fill="#ff6500"/>
<rect x="25" y="21" width="1.03" height="1.03" fill="#ff3400"/>
<rect x="26" y="21" width="1.03" height="1.03" fill="#fa0000"/>
<rect x="0" y="22" width="1.03" height="1.03" fill="#ff5900"/>
<rect x="1" y="22" width="1.03" height="1.03" fill="#ff8a00"/>
<rect x="2" y="22" width="1.03" height="1.03" fill="#ffb500"/>
<rect x="3" y="22" width="1.03" height="1.03" fill="#ffdb00"/>
<rect x="4" y="22" width="1.03" height="1.03" fill="#fffc00"/>
<rect x="5" y="22" width="1.03" height="1.03" fill="#e6ff19"/>
<rect x="6" y="22" width="1.03" height="1.03" fill="#ceff31"/>
<rect x="7" y="22" width="1.03" height="1.03" fill="#baff45"/>
<rect x="8" y="22" width="1.03" height="1.03" fill="#a9ff56"/>
<rect x="9" y="22" width="1.03" height="1.03" fill="#9bff64"/>
<rect x="10" y="22" width="1.03" height="1.03" fill="#91ff6e"/>
<rect x="11" y="22" width="1.03" height="1.03" fill="#89ff76"/>
<rect x="12" y="22" width="1.03" height="1.03" fill="#85ff7a"/>
<rect x="13" y="22" width="1.03" height="1.03" fill="#84ff7b"/>
<rect x="14" y="22" width="1.03" height="1.03" fill="#85ff7a"/>
<rect x="15" y="22" width="1.03" height="1.03" fill="#89ff76"/>
<rect x="16" y="22" width="1.03" height="1.03" fill="#91ff6e"/>
<rect x="17" y="22" width="1.03" height="1.03" fill="#9bff64"/>
<rect x="18" y="22" width="1.03" height="1.03" fill="#a9ff56"/>
<rect x="19" y="22" width="1.03" height="1.03" fill="#baff45"/>
<rect x="20" y="22" width="1.03" height="1.03" fill="#ceff31"/>
<rect x="21" y="22" width="1.03" height="1.03" fill="#e6ff19"/>
<rect x="22" y="22" width="1.03" height="1.03" fill="#fffc00"/>
<rect x="23" y="22" width="1.03" height="1.03" fill="#ffdb00"/>
<rect x="24" y="22" width="1.03" height="1.03" fill="#ffb500"/>
<rect x="25" y="22" width="1.03" height="1.03" fill="#ff8a00"/>
<rect x="26" y="22" width="1.03" height="1.03" fill="#ff5900"/>
<rect x="0" y="23" width="1.03" height="1.03" fill="#ffbb00"/>
<rect x="1" y="23" width="1.03" height="1.03" fill="#ffe500"/>
<rect x="2" y="23" width="1.03" height="1.03" fill="#f4ff0b"/>
<rect x="3" y="23" width="1.03" height="1.03" fill="#d2ff2d"/>
<rect x="4" y="23" width="1.03" height="1.03" fill="#b5ff4a"/>
<rect x="5" y="23" width="1.03" height="1.03" fill="#9cff63"/>
<rect x="6" y="23" width="1.03" height="1.03" fill="#86ff79"/>
<rect x="7" y="23" width="1.03" height="1.03" fill="#74ff8b"/>
<rect x="8" y="23" width="1.03" height="1.03" fill="#64ff9b"/>
<rect x="9" y="23" width="1.03" height="1.03" fill="#58ffa7"/>
<rect x="10" y="23" width="1.03" height="1.03" fill="#4effb1"/>
<rect x="11" y="23" width="1.03" height="1.03" fill="#48ffb7"/>
<rect x="12" y="23" width="1.03" height="1.03" fill="#44ffbb"/>
<rect x="13" y="23" width="1.03" height="1.03" fill="#42ffbd"/>
<rect x="14" y="23" width="1.03" height="1.03" fill="#44ffbb"/>
<rect x="15" y="23" width="1.03" height="1.03" fill="#48ffb7"/>
<rect x="16" y="23" width="1.03" height="1.03" fill="#4effb1"/>
<rect x="17" y="23" width="1.03" height="1.03" fill="#58ffa7"/>
<rect x="18" y="23" width="1.03" height="1.03" fill="#64ff9b"/>
<rect x="19" y="23" width="1.03" height="1.03" fill="#74ff8b"/>
<rect x="20" y="23" width="1.03" height="1.03" fill="#86ff79"/>
<rect x="21" y="23" width="1.03" height="1.03" fill="#9cff63"/>
<rect x="22" y="23" width="1.03" height="1.03" fill="#b5ff4a"/>
<rect x="23" y="23" width="1.03" height="1.03" fill="#d2ff2d"/>
<rect x="24" y="23" width="1.03" height="1.03" fill="#f4ff0b"/>
<rect x="25" y="23" width="1.03" height="1.03" fill="#ffe500"/>
<rect x="26" y="23" width="1.03" height="1.03" fill="#ffbb00"/>
<rect x="0" y="24" width="1.03" height="1.03" fill="#d9ff26"/>
<rect x="1" y="24" width="1.03" height="1.03" fill="#b6ff49"/>
<rect x="2" y="24" width="1.03" height="1.03" fill="#96ff69"/>
<rect x="3" y="24" width="1.03" height="1.03" fill="#7aff85"/>
<rect x="4" y="24" width="1.03" height="1.03" fill="#61ff9e"/>
<rect x="5" y="24" width="1.03" height="1.03" fill="#4bffb4"/>
<rect x="6" y="24" width="1.03" height="1.03" fill="#39ffc6"/>
<rect x="7" y="24" width="1.03" height="1.03" fill="#28ffd7"/>
<rect x="8" y="24" width="1.03" height="1.03" fill="#1bffe4"/>
<rect x="9" y="24" width="1.03" height="1.03" fill="#10ffef"/>
<rect x="10" y="24" width="1.03" height="1.03" fill="#08fff7"/>
<rect x="11" y="24" width="1.03" height="1.03" fill="#02fffd"/>
<rect x="12" y="24" width="1.03" height="1.03" fill="#00fdff"/>
<rect x="13" y="24" width="1.03" height="1.03" fill="#00fcff"/>
<rect x="14" y="24" width="1.03" height="1.03" fill="#00fdff"/>
<rect x="15" y="24" width="1.03" height="1.03" fill="#02fffd"/>
<rect x="16" y="24" width="1.03" height="1.03" fill="#08fff7"/>
<rect x="17" y="24" width="1.03" height="1.03" fill="#10ffef"/>
<rect x="18" y="24" width="1.03" height="1.03" fill="#1bffe4"/>
<rect x="19" y="24" width="1.03" height="1.03" fill="#28ffd7"/>
<rect x="20" y="24" width="1.03" height="1.03" fill="#39ffc6"/>
<rect x="21" y="24" width="1.03" height="1.03" fill="#4bffb4"/>
<rect x="22" y="24" width="1.03" height="1.03" fill="#61ff9e"/>
<rect x="23" y="24" width="1.03" height="1.03" fill="#7aff85"/>
<rect x="24" y="24" width="1.03" height="1.03" fill="#96ff69"/>
<rect x="25" y="24" width="1.03" height="1.03" fill="#b6ff49"/>
<rect x="26" y="24" width="1.03" height="1.03" fill="#d9ff26"/>
<rect x="0" y="25" width="1.03" height="1.03" fill="#73ff8c"/>
<rect x="1" y="25" width="1.03" height="1.03" fill="#56ffa9"/>
<rect x="2" y="25" width="1.03" height="1.03" fill="#3cffc3"/>
<rect x="3" y="25" width="1.03" height="1.03" fill="#25ffda"/>
<rect x="4" y="25" width="1.03" height="1.03" fill="#10ffef"/>
<rect x="5" y="25" width="1.03" height="1.03" fill="#00fdff"/>
<rect x="6" y="25" width="1.03" height="1.03" fill="#00edff"/>
<rect x="7" y="25" width="1.03" height="1.03" fill="#00e0ff"/>
<rect x="8" y="25" width="1.03" height="1.03" fill="#00d4ff"/>
<rect x="9" y="25" width="1.03" height="1.03" fill="#00cbff"/>
<rect x="10" y="25" width="1.03" height="1.03" fill="#00c4ff"/>
<rect x="11" y="25" width="1.03" height="1.03" fill="#00bfff"/>
<rect x="12" y="25" width="1.03" height="1.03" fill="#00bcff"/>
<rect x="13" y="25" width="1.03" height="1.03" fill="#00bbff"/>
<rect x="14" y="25" width="1.03" height="1.03" fill="#00bcff"/>
<rect x="15" y="25" width="1.03" height="1.03" fill="#00bfff"/>
<rect x="16" y="25" width="1.03" height="1.03" fill="#00c4ff"/>
<rect x="17" y="25" width="1.03" height="1.03" fill="#00cbff"/>
<rect x="18" y="25" width="1.03" height="1.03" fill="#00d4ff"/>
<rect x="19" y="25" width="1.03" height="1.03" fill="#00e0ff"/>
<rect x="20" y="25" width="1.03" height="1.03" fill="#00edff"/>
<rect x="21" y="25" width="1.03" height="1.03" fill="#00fdff"/>
<rect x="22" y="25" width="1.03" height="1.03" fill="#10ffef"/>
<rect x="23" y="25" width="1.03" height="1.03" fill="#25ffda"/>
<rect x="24" y="25" width="1.03" height="1.03" fill="#3cffc3"/>
<rect x="25" y="25" width="1.03" height="1.03" fill="#56ffa9"/>
<rect x="26" y="25" width="1.03" height="1.03" fill="#73ff8c"/>
<rect x="0" y="26" width="1.03" height="1.03" fill="#00fcff"/>
<rect x="1" y="26" width="1.03" height="1.03" fill="#00e6ff"/>
<rect x="2" y="26" width="1.03" height="1.03" fill="#00d3ff"/>
<rect x="3" y="26" width="1.03" height="1.03" fill="#00c1ff"/>
<rect x="4" y="26" width="1.03" height="1.03" fill="#00b2ff"/>
<rect x="5" y="26" width="1.03" height="1.03" fill="#00a4ff"/>
<rect x="6" y="26" width="1.03" height="1.03" fill="#0098ff"/>
<rect x="7" y="26" width="1.03" height="1.03" fill="#008eff"/>
<rect x="8" y="26" width="1.03" height="1.03" fill="#0085ff"/>
<rect x="9" y="26" width="1.03" height="1.03" fill="#007eff"/>
<rect x="10" y="26" width="1.03" height="1.03" fill="#0078ff"/>
<rect x="11" y="26" width="1.03" height="1.03" fill="#0074ff"/>
<rect x="12" y="26" width="1.03" height="1.03" fill="#0072ff"/>
<rect x="13" y="26" width="1.03" height="1.03" fill="#0071ff"/>
<rect x="14" y="26" width="1.03" height="1.03" fill="#0072ff"/>
<rect x="15" y="26" width="1.03" height="1.03" fill="#0074ff"/>
<rect x="16" y="26" width="1.03" height="1.03" fill="#0078ff"/>
<rect x="17" y="26" width="1.03" height="1.03" fill="#007eff"/>
<rect x="18" y="26" width="1.03" height="1.03" fill="#0085ff"/>
<rect x="19" y="26" width="1.03" height="1.03" fill="#008eff"/>
<rect x="20" y="26" width="1.03" height="1.03" fill="#0098ff"/>
<rect x="21" y="26" width="1.03" height="1.03" fill="#00a4ff"/>
<rect x="22" y="26" width="1.03" height="1.03" fill="#00b2ff"/>
<rect x="23" y="26" width="1.03" height="1.03" fill="#00c1ff"/>
<rect x="24" y="26" width="1.03" height="1.03" fill="#00d3ff"/>
<rect x="25" y="26" width="1.03" height="1.03" fill="#00e6ff"/>
<rect x="26" y="26" width="1.03" height="1.03" fill="#00fcff"/>
</g>
<g transform="translate(1039.4 477.5) scale(12.2222 12.2481)" shape-rendering="crispEdges" filter="url(#b1)">
<rect x="0" y="0" width="1.03" height="1.03" fill="#abff54"/>
<rect x="1" y="0" width="1.03" height="1.03" fill="#98ff67"/>
<rect x="2" y="0" width="1.03" height="1.03" fill="#74ff8b"/>
<rect x="3" y="0" width="1.03" height="1.03" fill="#6bff94"/>
<rect x="4" y="0" width="1.03" height="1.03" fill="#52ffad"/>
<rect x="5" y="0" width="1.03" height="1.03" fill="#42ffbd"/>
<rect x="6" y="0" width="1.03" height="1.03" fill="#41ffbe"/>
<rect x="7" y="0" width="1.03" height="1.03" fill="#2bffd4"/>
<rect x="8" y="0" width="1.03" height="1.03" fill="#1fffe0"/>
<rect x="9" y="0" width="1.03" height="1.03" fill="#1affe5"/>
<rect x="10" y="0" width="1.03" height="1.03" fill="#15ffea"/>
<rect x="11" y="0" width="2.03" height="1.03" fill="#09fff6"/>
<rect x="13" y="0" width="1.03" height="1.03" fill="#00ffff"/>
<rect x="14" y="0" width="1.03" height="1.03" fill="#06fff9"/>
<rect x="15" y="0" width="1.03" height="1.03" fill="#0cfff3"/>
<rect x="16" y="0" width="1.03" height="1.03" fill="#0ffff0"/>
<rect x="17" y="0" width="1.03" height="1.03" fill="#18ffe7"/>
<rect x="18" y="0" width="1.03" height="1.03" fill="#23ffdc"/>
<rect x="19" y="0" width="1.03" height="1.03" fill="#37ffc8"/>
<rect x="20" y="0" width="1.03" height="1.03" fill="#45ffba"/>
<rect x="21" y="0" width="1.03" height="1.03" fill="#53ffac"/>
<rect x="22" y="0" width="1.03" height="1.03" fill="#65ff9a"/>
<rect x="23" y="0" width="1.03" height="1.03" fill="#70ff8f"/>
<rect x="24" y="0" width="1.03" height="1.03" fill="#8eff71"/>
<rect x="25" y="0" width="1.03" height="1.03" fill="#abff54"/>
<rect x="26" y="0" width="1.03" height="1.03" fill="#ceff31"/>
<rect x="0" y="1" width="1.03" height="1.03" fill="#e6ff19"/>
<rect x="1" y="1" width="1.03" height="1.03" fill="#cdff32"/>
<rect x="2" y="1" width="1.03" height="1.03" fill="#a9ff56"/>
<rect x="3" y="1" width="1.03" height="1.03" fill="#9aff65"/>
<rect x="4" y="1" width="1.03" height="1.03" fill="#7aff85"/>
<rect x="5" y="1" width="1.03" height="1.03" fill="#6cff93"/>
<rect x="6" y="1" width="1.03" height="1.03" fill="#6aff95"/>
<rect x="7" y="1" width="1.03" height="1.03" fill="#4bffb4"/>
<rect x="8" y="1" width="1.03" height="1.03" fill="#52ffad"/>
<rect x="9" y="1" width="1.03" height="1.03" fill="#48ffb7"/>
<rect x="10" y="1" width="1.03" height="1.03" fill="#3fffc0"/>
<rect x="11" y="1" width="1.03" height="1.03" fill="#40ffbf"/>
<rect x="12" y="1" width="1.03" height="1.03" fill="#3fffc0"/>
<rect x="13" y="1" width="1.03" height="1.03" fill="#41ffbe"/>
<rect x="14" y="1" width="1.03" height="1.03" fill="#3cffc3"/>
<rect x="15" y="1" width="1.03" height="1.03" fill="#3dffc2"/>
<rect x="16" y="1" width="1.03" height="1.03" fill="#43ffbc"/>
<rect x="17" y="1" width="1.03" height="1.03" fill="#4affb5"/>
<rect x="18" y="1" width="1.03" height="1.03" fill="#5affa5"/>
<rect x="19" y="1" width="1.03" height="1.03" fill="#63ff9c"/>
<rect x="20" y="1" width="1.03" height="1.03" fill="#7dff82"/>
<rect x="21" y="1" width="1.03" height="1.03" fill="#7eff81"/>
<rect x="22" y="1" width="1.03" height="1.03" fill="#97ff68"/>
<rect x="23" y="1" width="1.03" height="1.03" fill="#afff50"/>
<rect x="24" y="1" width="1.03" height="1.03" fill="#c2ff3d"/>
<rect x="25" y="1" width="1.03" height="1.03" fill="#f6ff09"/>
<rect x="26" y="1" width="1.03" height="1.03" fill="#feff01"/>
<rect x="0" y="2" width="1.03" height="1.03" fill="#ffc100"/>
<rect x="1" y="2" width="1.03" height="1.03" fill="#ffe500"/>
<rect x="2" y="2" width="1.03" height="1.03" fill="#fffa00"/>
<rect x="3" y="2" width="1.03" height="1.03" fill="#d0ff2f"/>
<rect x="4" y="2" width="1.03" height="1.03" fill="#c5ff3a"/>
<rect x="5" y="2" width="1.03" height="1.03" fill="#a2ff5d"/>
<rect x="6" y="2" width="1.03" height="1.03" fill="#91ff6e"/>
<rect x="7" y="2" width="1.03" height="1.03" fill="#7fff80"/>
<rect x="8" y="2" width="1.03" height="1.03" fill="#7bff84"/>
<rect x="9" y="2" width="1.03" height="1.03" fill="#6aff95"/>
<rect x="10" y="2" width="1.03" height="1.03" fill="#6cff93"/>
<rect x="11" y="2" width="1.03" height="1.03" fill="#6dff92"/>
<rect x="12" y="2" width="1.03" height="1.03" fill="#74ff8b"/>
<rect x="13" y="2" width="1.03" height="1.03" fill="#5bffa4"/>
<rect x="14" y="2" width="1.03" height="1.03" fill="#72ff8d"/>
<rect x="15" y="2" width="1.03" height="1.03" fill="#71ff8e"/>
<rect x="16" y="2" width="1.03" height="1.03" fill="#6dff92"/>
<rect x="17" y="2" width="1.03" height="1.03" fill="#7aff85"/>
<rect x="18" y="2" width="1.03" height="1.03" fill="#81ff7e"/>
<rect x="19" y="2" width="1.03" height="1.03" fill="#9dff62"/>
<rect x="20" y="2" width="1.03" height="1.03" fill="#a9ff56"/>
<rect x="21" y="2" width="1.03" height="1.03" fill="#beff41"/>
<rect x="22" y="2" width="1.03" height="1.03" fill="#d9ff26"/>
<rect x="23" y="2" width="1.03" height="1.03" fill="#f7ff08"/>
<rect x="24" y="2" width="1.03" height="1.03" fill="#ffe600"/>
<rect x="25" y="2" width="1.03" height="1.03" fill="#ffc700"/>
<rect x="26" y="2" width="1.03" height="1.03" fill="#ff8f00"/>
<rect x="0" y="3" width="1.03" height="1.03" fill="#ff8e00"/>
<rect x="1" y="3" width="1.03" height="1.03" fill="#ffbd00"/>
<rect x="2" y="3" width="1.03" height="1.03" fill="#ffcc00"/>
<rect x="3" y="3" width="1.03" height="1.03" fill="#ffee00"/>
<rect x="4" y="3" width="1.03" height="1.03" fill="#f4ff0b"/>
<rect x="5" y="3" width="1.03" height="1.03" fill="#d6ff29"/>
<rect x="6" y="3" width="1.03" height="1.03" fill="#c1ff3e"/>
<rect x="7" y="3" width="1.03" height="1.03" fill="#b3ff4c"/>
<rect x="8" y="3" width="1.03" height="1.03" fill="#acff53"/>
<rect x="9" y="3" width="1.03" height="1.03" fill="#9eff61"/>
<rect x="10" y="3" width="1.03" height="1.03" fill="#9cff63"/>
<rect x="11" y="3" width="1.03" height="1.03" fill="#a8ff57"/>
<rect x="12" y="3" width="1.03" height="1.03" fill="#a0ff5f"/>
<rect x="13" y="3" width="1.03" height="1.03" fill="#97ff68"/>
<rect x="14" y="3" width="1.03" height="1.03" fill="#aaff55"/>
<rect x="15" y="3" width="1.03" height="1.03" fill="#a2ff5d"/>
<rect x="16" y="3" width="1.03" height="1.03" fill="#9eff61"/>
<rect x="17" y="3" width="1.03" height="1.03" fill="#a1ff5e"/>
<rect x="18" y="3" width="1.03" height="1.03" fill="#b4ff4b"/>
<rect x="19" y="3" width="1.03" height="1.03" fill="#beff41"/>
<rect x="20" y="3" width="1.03" height="1.03" fill="#d2ff2d"/>
<rect x="21" y="3" width="1.03" height="1.03" fill="#ebff14"/>
<rect x="22" y="3" width="1.03" height="1.03" fill="#fff000"/>
<rect x="23" y="3" width="1.03" height="1.03" fill="#ffc500"/>
<rect x="24" y="3" width="1.03" height="1.03" fill="#ffaa00"/>
<rect x="25" y="3" width="1.03" height="1.03" fill="#ff8a00"/>
<rect x="26" y="3" width="1.03" height="1.03" fill="#ff5500"/>
<rect x="0" y="4" width="1.03" height="1.03" fill="#ff2000"/>
<rect x="1" y="4" width="1.03" height="1.03" fill="#ff4a00"/>
<rect x="2" y="4" width="1.03" height="1.03" fill="#ff7300"/>
<rect x="3" y="4" width="1.03" height="1.03" fill="#ffa200"/>
<rect x="4" y="4" width="1.03" height="1.03" fill="#ffc600"/>
<rect x="5" y="4" width="1.03" height="1.03" fill="#ffe400"/>
<rect x="6" y="4" width="1.03" height="1.03" fill="#faff05"/>
<rect x="7" y="4" width="1.03" height="1.03" fill="#f1ff0e"/>
<rect x="8" y="4" width="1.03" height="1.03" fill="#e8ff17"/>
<rect x="9" y="4" width="1.03" height="1.03" fill="#d9ff26"/>
<rect x="10" y="4" width="1.03" height="1.03" fill="#d3ff2c"/>
<rect x="11" y="4" width="1.03" height="1.03" fill="#d2ff2d"/>
<rect x="12" y="4" width="2.03" height="1.03" fill="#ceff31"/>
<rect x="14" y="4" width="1.03" height="1.03" fill="#d1ff2e"/>
<rect x="15" y="4" width="1.03" height="1.03" fill="#d0ff2f"/>
<rect x="16" y="4" width="2.03" height="1.03" fill="#d6ff29"/>
<rect x="18" y="4" width="1.03" height="1.03" fill="#eeff11"/>
<rect x="19" y="4" width="1.03" height="1.03" fill="#ffff00"/>
<rect x="20" y="4" width="1.03" height="1.03" fill="#ffed00"/>
<rect x="21" y="4" width="1.03" height="1.03" fill="#ffd400"/>
<rect x="22" y="4" width="1.03" height="1.03" fill="#ffa300"/>
<rect x="23" y="4" width="1.03" height="1.03" fill="#ff7500"/>
<rect x="24" y="4" width="1.03" height="1.03" fill="#ff5400"/>
<rect x="25" y="4" width="1.03" height="1.03" fill="#ff2300"/>
<rect x="26" y="4" width="1.03" height="1.03" fill="#f00000"/>
<rect x="0" y="5" width="1.03" height="1.03" fill="#d00000"/>
<rect x="1" y="5" width="1.03" height="1.03" fill="#ff1000"/>
<rect x="2" y="5" width="1.03" height="1.03" fill="#ff3500"/>
<rect x="3" y="5" width="1.03" height="1.03" fill="#ff6600"/>
<rect x="4" y="5" width="1.03" height="1.03" fill="#ff8500"/>
<rect x="5" y="5" width="1.03" height="1.03" fill="#ffaa00"/>
<rect x="6" y="5" width="1.03" height="1.03" fill="#ffc700"/>
<rect x="7" y="5" width="1.03" height="1.03" fill="#ffe300"/>
<rect x="8" y="5" width="1.03" height="1.03" fill="#ffed00"/>
<rect x="9" y="5" width="2.03" height="1.03" fill="#fff500"/>
<rect x="11" y="5" width="1.03" height="1.03" fill="#fffa00"/>
<rect x="12" y="5" width="1.03" height="1.03" fill="#feff01"/>
<rect x="13" y="5" width="1.03" height="1.03" fill="#fffa00"/>
<rect x="14" y="5" width="1.03" height="1.03" fill="#fff500"/>
<rect x="15" y="5" width="1.03" height="1.03" fill="#fff900"/>
<rect x="16" y="5" width="1.03" height="1.03" fill="#fff600"/>
<rect x="17" y="5" width="1.03" height="1.03" fill="#ffed00"/>
<rect x="18" y="5" width="1.03" height="1.03" fill="#ffd800"/>
<rect x="19" y="5" width="1.03" height="1.03" fill="#ffc600"/>
<rect x="20" y="5" width="1.03" height="1.03" fill="#ffb400"/>
<rect x="21" y="5" width="1.03" height="1.03" fill="#ff8b00"/>
<rect x="22" y="5" width="1.03" height="1.03" fill="#ff6a00"/>
<rect x="23" y="5" width="1.03" height="1.03" fill="#ff3f00"/>
<rect x="24" y="5" width="1.03" height="1.03" fill="#ff0400"/>
<rect x="25" y="5" width="1.03" height="1.03" fill="#cf0000"/>
<rect x="26" y="5" width="1.03" height="1.03" fill="#9d0000"/>
<rect x="0" y="6" width="1.03" height="1.03" fill="#910000"/>
<rect x="1" y="6" width="1.03" height="1.03" fill="#ce0000"/>
<rect x="2" y="6" width="1.03" height="1.03" fill="#ff0c00"/>
<rect x="3" y="6" width="1.03" height="1.03" fill="#ff3700"/>
<rect x="4" y="6" width="1.03" height="1.03" fill="#ff5a00"/>
<rect x="5" y="6" width="1.03" height="1.03" fill="#ff8900"/>
<rect x="6" y="6" width="1.03" height="1.03" fill="#ff9900"/>
<rect x="7" y="6" width="1.03" height="1.03" fill="#ffad00"/>
<rect x="8" y="6" width="1.03" height="1.03" fill="#ffc000"/>
<rect x="9" y="6" width="2.03" height="1.03" fill="#ffd700"/>
<rect x="11" y="6" width="1.03" height="1.03" fill="#ffe300"/>
<rect x="12" y="6" width="1.03" height="1.03" fill="#ffdd00"/>
<rect x="13" y="6" width="2.03" height="1.03" fill="#ffdc00"/>
<rect x="15" y="6" width="1.03" height="1.03" fill="#ffdd00"/>
<rect x="16" y="6" width="1.03" height="1.03" fill="#ffd400"/>
<rect x="17" y="6" width="1.03" height="1.03" fill="#ffc000"/>
<rect x="18" y="6" width="1.03" height="1.03" fill="#ffba00"/>
<rect x="19" y="6" width="1.03" height="1.03" fill="#ff9d00"/>
<rect x="20" y="6" width="1.03" height="1.03" fill="#ff8100"/>
<rect x="21" y="6" width="1.03" height="1.03" fill="#ff6400"/>
<rect x="22" y="6" width="1.03" height="1.03" fill="#ff2c00"/>
<rect x="23" y="6" width="1.03" height="1.03" fill="#ff0b00"/>
<rect x="24" y="6" width="1.03" height="1.03" fill="#c80000"/>
<rect x="25" y="6" width="1.03" height="1.03" fill="#a20000"/>
<rect x="26" y="6" width="1.03" height="1.03" fill="#800000"/>
<rect x="0" y="7" width="1.03" height="1.03" fill="#800000"/>
<rect x="1" y="7" width="1.03" height="1.03" fill="#990000"/>
<rect x="2" y="7" width="1.03" height="1.03" fill="#da0000"/>
<rect x="3" y="7" width="1.03" height="1.03" fill="#ff0a00"/>
<rect x="4" y="7" width="1.03" height="1.03" fill="#ff3d00"/>
<rect x="5" y="7" width="1.03" height="1.03" fill="#ff5600"/>
<rect x="6" y="7" width="1.03" height="1.03" fill="#ff7400"/>
<rect x="7" y="7" width="1.03" height="1.03" fill="#ff8700"/>
<rect x="8" y="7" width="1.03" height="1.03" fill="#ff9400"/>
<rect x="9" y="7" width="1.03" height="1.03" fill="#ffa900"/>
<rect x="10" y="7" width="1.03" height="1.03" fill="#ffb300"/>
<rect x="11" y="7" width="1.03" height="1.03" fill="#ffc000"/>
<rect x="12" y="7" width="1.03" height="1.03" fill="#ffc300"/>
<rect x="13" y="7" width="1.03" height="1.03" fill="#ffbf00"/>
<rect x="14" y="7" width="1.03" height="1.03" fill="#ffbe00"/>
<rect x="15" y="7" width="1.03" height="1.03" fill="#ffae00"/>
<rect x="16" y="7" width="1.03" height="1.03" fill="#ffaf00"/>
<rect x="17" y="7" width="1.03" height="1.03" fill="#ff9100"/>
<rect x="18" y="7" width="1.03" height="1.03" fill="#ff9000"/>
<rect x="19" y="7" width="1.03" height="1.03" fill="#ff6e00"/>
<rect x="20" y="7" width="1.03" height="1.03" fill="#ff5d00"/>
<rect x="21" y="7" width="1.03" height="1.03" fill="#ff2d00"/>
<rect x="22" y="7" width="1.03" height="1.03" fill="#ff0e00"/>
<rect x="23" y="7" width="1.03" height="1.03" fill="#db0000"/>
<rect x="24" y="7" width="1.03" height="1.03" fill="#9f0000"/>
<rect x="25" y="7" width="2.03" height="1.03" fill="#800000"/>
<rect x="0" y="8" width="2.03" height="1.03" fill="#800000"/>
<rect x="2" y="8" width="1.03" height="1.03" fill="#ae0000"/>
<rect x="3" y="8" width="1.03" height="1.03" fill="#e20000"/>
<rect x="4" y="8" width="1.03" height="1.03" fill="#ff0900"/>
<rect x="5" y="8" width="1.03" height="1.03" fill="#ff1f00"/>
<rect x="6" y="8" width="1.03" height="1.03" fill="#ff5100"/>
<rect x="7" y="8" width="1.03" height="1.03" fill="#ff5d00"/>
<rect x="8" y="8" width="1.03" height="1.03" fill="#ff7600"/>
<rect x="9" y="8" width="1.03" height="1.03" fill="#ff8300"/>
<rect x="10" y="8" width="1.03" height="1.03" fill="#ff9f00"/>
<rect x="11" y="8" width="1.03" height="1.03" fill="#ffa100"/>
<rect x="12" y="8" width="1.03" height="1.03" fill="#ff9f00"/>
<rect x="13" y="8" width="1.03" height="1.03" fill="#ff9b00"/>
<rect x="14" y="8" width="1.03" height="1.03" fill="#ff9600"/>
<rect x="15" y="8" width="1.03" height="1.03" fill="#ff9b00"/>
<rect x="16" y="8" width="1.03" height="1.03" fill="#ff8800"/>
<rect x="17" y="8" width="1.03" height="1.03" fill="#ff7800"/>
<rect x="18" y="8" width="1.03" height="1.03" fill="#ff6b00"/>
<rect x="19" y="8" width="1.03" height="1.03" fill="#ff5300"/>
<rect x="20" y="8" width="1.03" height="1.03" fill="#ff2b00"/>
<rect x="21" y="8" width="1.03" height="1.03" fill="#ff0c00"/>
<rect x="22" y="8" width="1.03" height="1.03" fill="#e50000"/>
<rect x="23" y="8" width="1.03" height="1.03" fill="#ab0000"/>
<rect x="24" y="8" width="3.03" height="1.03" fill="#800000"/>
<rect x="0" y="9" width="2.03" height="1.03" fill="#800000"/>
<rect x="2" y="9" width="1.03" height="1.03" fill="#810000"/>
<rect x="3" y="9" width="1.03" height="1.03" fill="#b90000"/>
<rect x="4" y="9" width="1.03" height="1.03" fill="#e50000"/>
<rect x="5" y="9" width="1.03" height="1.03" fill="#fe0000"/>
<rect x="6" y="9" width="1.03" height="1.03" fill="#ff2800"/>
<rect x="7" y="9" width="1.03" height="1.03" fill="#ff3900"/>
<rect x="8" y="9" width="1.03" height="1.03" fill="#ff5100"/>
<rect x="9" y="9" width="1.03" height="1.03" fill="#ff6a00"/>
<rect x="10" y="9" width="1.03" height="1.03" fill="#ff7300"/>
<rect x="11" y="9" width="1.03" height="1.03" fill="#ff8900"/>
<rect x="12" y="9" width="1.03" height="1.03" fill="#ff8400"/>
<rect x="13" y="9" width="1.03" height="1.03" fill="#ff9000"/>
<rect x="14" y="9" width="1.03" height="1.03" fill="#ff8800"/>
<rect x="15" y="9" width="1.03" height="1.03" fill="#ff7900"/>
<rect x="16" y="9" width="1.03" height="1.03" fill="#ff6600"/>
<rect x="17" y="9" width="1.03" height="1.03" fill="#ff5300"/>
<rect x="18" y="9" width="1.03" height="1.03" fill="#ff3d00"/>
<rect x="19" y="9" width="1.03" height="1.03" fill="#ff2a00"/>
<rect x="20" y="9" width="1.03" height="1.03" fill="#ff1300"/>
<rect x="21" y="9" width="1.03" height="1.03" fill="#e80000"/>
<rect x="22" y="9" width="1.03" height="1.03" fill="#c00000"/>
<rect x="23" y="9" width="1.03" height="1.03" fill="#940000"/>
<rect x="24" y="9" width="3.03" height="1.03" fill="#800000"/>
<rect x="0" y="10" width="3.03" height="1.03" fill="#800000"/>
<rect x="3" y="10" width="1.03" height="1.03" fill="#970000"/>
<rect x="4" y="10" width="1.03" height="1.03" fill="#d20000"/>
<rect x="5" y="10" width="1.03" height="1.03" fill="#ee0000"/>
<rect x="6" y="10" width="1.03" height="1.03" fill="#ff1400"/>
<rect x="7" y="10" width="1.03" height="1.03" fill="#ff2200"/>
<rect x="8" y="10" width="1.03" height="1.03" fill="#ff4000"/>
<rect x="9" y="10" width="1.03" height="1.03" fill="#ff4e00"/>
<rect x="10" y="10" width="1.03" height="1.03" fill="#ff6800"/>
<rect x="11" y="10" width="2.03" height="1.03" fill="#ff6d00"/>
<rect x="13" y="10" width="1.03" height="1.03" fill="#ff7100"/>
<rect x="14" y="10" width="1.03" height="1.03" fill="#ff7800"/>
<rect x="15" y="10" width="1.03" height="1.03" fill="#ff5d00"/>
<rect x="16" y="10" width="1.03" height="1.03" fill="#ff4d00"/>
<rect x="17" y="10" width="1.03" height="1.03" fill="#ff4100"/>
<rect x="18" y="10" width="1.03" height="1.03" fill="#ff1f00"/>
<rect x="19" y="10" width="1.03" height="1.03" fill="#ff1400"/>
<rect x="20" y="10" width="1.03" height="1.03" fill="#f00000"/>
<rect x="21" y="10" width="1.03" height="1.03" fill="#c70000"/>
<rect x="22" y="10" width="1.03" height="1.03" fill="#9b0000"/>
<rect x="23" y="10" width="4.03" height="1.03" fill="#800000"/>
<rect x="0" y="11" width="4.03" height="1.03" fill="#800000"/>
<rect x="4" y="11" width="1.03" height="1.03" fill="#b10000"/>
<rect x="5" y="11" width="1.03" height="1.03" fill="#da0000"/>
<rect x="6" y="11" width="1.03" height="1.03" fill="#fd0000"/>
<rect x="7" y="11" width="1.03" height="1.03" fill="#ff1800"/>
<rect x="8" y="11" width="1.03" height="1.03" fill="#ff2f00"/>
<rect x="9" y="11" width="1.03" height="1.03" fill="#ff3e00"/>
<rect x="10" y="11" width="1.03" height="1.03" fill="#ff4d00"/>
<rect x="11" y="11" width="1.03" height="1.03" fill="#ff5700"/>
<rect x="12" y="11" width="1.03" height="1.03" fill="#ff6200"/>
<rect x="13" y="11" width="1.03" height="1.03" fill="#ff5600"/>
<rect x="14" y="11" width="1.03" height="1.03" fill="#ff5a00"/>
<rect x="15" y="11" width="1.03" height="1.03" fill="#ff4a00"/>
<rect x="16" y="11" width="1.03" height="1.03" fill="#ff3b00"/>
<rect x="17" y="11" width="1.03" height="1.03" fill="#ff3400"/>
<rect x="18" y="11" width="1.03" height="1.03" fill="#ff2200"/>
<rect x="19" y="11" width="1.03" height="1.03" fill="#f60000"/>
<rect x="20" y="11" width="1.03" height="1.03" fill="#e10000"/>
<rect x="21" y="11" width="1.03" height="1.03" fill="#ba0000"/>
<rect x="22" y="11" width="1.03" height="1.03" fill="#8f0000"/>
<rect x="23" y="11" width="4.03" height="1.03" fill="#800000"/>
<rect x="0" y="12" width="4.03" height="1.03" fill="#800000"/>
<rect x="4" y="12" width="1.03" height="1.03" fill="#b50000"/>
<rect x="5" y="12" width="1.03" height="1.03" fill="#db0000"/>
<rect x="6" y="12" width="1.03" height="1.03" fill="#f80000"/>
<rect x="7" y="12" width="1.03" height="1.03" fill="#ff1000"/>
<rect x="8" y="12" width="1.03" height="1.03" fill="#ff2900"/>
<rect x="9" y="12" width="1.03" height="1.03" fill="#ff3200"/>
<rect x="10" y="12" width="1.03" height="1.03" fill="#ff4600"/>
<rect x="11" y="12" width="1.03" height="1.03" fill="#ff5500"/>
<rect x="12" y="12" width="1.03" height="1.03" fill="#ff5800"/>
<rect x="13" y="12" width="1.03" height="1.03" fill="#ff5000"/>
<rect x="14" y="12" width="1.03" height="1.03" fill="#ff5400"/>
<rect x="15" y="12" width="1.03" height="1.03" fill="#ff4300"/>
<rect x="16" y="12" width="1.03" height="1.03" fill="#ff3500"/>
<rect x="17" y="12" width="1.03" height="1.03" fill="#ff2500"/>
<rect x="18" y="12" width="1.03" height="1.03" fill="#ff0d00"/>
<rect x="19" y="12" width="1.03" height="1.03" fill="#f90000"/>
<rect x="20" y="12" width="1.03" height="1.03" fill="#d80000"/>
<rect x="21" y="12" width="1.03" height="1.03" fill="#b50000"/>
<rect x="22" y="12" width="1.03" height="1.03" fill="#850000"/>
<rect x="23" y="12" width="4.03" height="1.03" fill="#800000"/>
<rect x="0" y="13" width="4.03" height="1.03" fill="#800000"/>
<rect x="4" y="13" width="1.03" height="1.03" fill="#a20000"/>
<rect x="5" y="13" width="1.03" height="1.03" fill="#d10000"/>
<rect x="6" y="13" width="1.03" height="1.03" fill="#ff0000"/>
<rect x="7" y="13" width="1.03" height="1.03" fill="#ff2100"/>
<rect x="8" y="13" width="1.03" height="1.03" fill="#ff2a00"/>
<rect x="9" y="13" width="1.03" height="1.03" fill="#ff3a00"/>
<rect x="10" y="13" width="1.03" height="1.03" fill="#ff4200"/>
<rect x="11" y="13" width="1.03" height="1.03" fill="#ff4a00"/>
<rect x="12" y="13" width="1.03" height="1.03" fill="#ff4800"/>
<rect x="13" y="13" width="1.03" height="1.03" fill="#ff5100"/>
<rect x="14" y="13" width="1.03" height="1.03" fill="#ff4800"/>
<rect x="15" y="13" width="1.03" height="1.03" fill="#ff4a00"/>
<rect x="16" y="13" width="1.03" height="1.03" fill="#ff4800"/>
<rect x="17" y="13" width="1.03" height="1.03" fill="#ff2e00"/>
<rect x="18" y="13" width="1.03" height="1.03" fill="#ff0e00"/>
<rect x="19" y="13" width="1.03" height="1.03" fill="#ff0600"/>
<rect x="20" y="13" width="1.03" height="1.03" fill="#d50000"/>
<rect x="21" y="13" width="1.03" height="1.03" fill="#b60000"/>
<rect x="22" y="13" width="5.03" height="1.03" fill="#800000"/>
<rect x="0" y="14" width="4.03" height="1.03" fill="#800000"/>
<rect x="4" y="14" width="1.03" height="1.03" fill="#a30000"/>
<rect x="5" y="14" width="1.03" height="1.03" fill="#d00000"/>
<rect x="6" y="14" width="1.03" height="1.03" fill="#ff0d00"/>
<rect x="7" y="14" width="1.03" height="1.03" fill="#ff2000"/>
<rect x="8" y="14" width="2.03" height="1.03" fill="#ff4000"/>
<rect x="10" y="14" width="1.03" height="1.03" fill="#ff4700"/>
<rect x="11" y="14" width="1.03" height="1.03" fill="#ff5500"/>
<rect x="12" y="14" width="1.03" height="1.03" fill="#ff5800"/>
<rect x="13" y="14" width="1.03" height="1.03" fill="#ff4d00"/>
<rect x="14" y="14" width="1.03" height="1.03" fill="#ff4800"/>
<rect x="15" y="14" width="1.03" height="1.03" fill="#ff4b00"/>
<rect x="16" y="14" width="2.03" height="1.03" fill="#ff4000"/>
<rect x="18" y="14" width="1.03" height="1.03" fill="#ff2400"/>
<rect x="19" y="14" width="1.03" height="1.03" fill="#ff0600"/>
<rect x="20" y="14" width="1.03" height="1.03" fill="#e40000"/>
<rect x="21" y="14" width="1.03" height="1.03" fill="#b10000"/>
<rect x="22" y="14" width="1.03" height="1.03" fill="#8b0000"/>
<rect x="23" y="14" width="4.03" height="1.03" fill="#800000"/>
<rect x="0" y="15" width="4.03" height="1.03" fill="#800000"/>
<rect x="4" y="15" width="1.03" height="1.03" fill="#c40000"/>
<rect x="5" y="15" width="1.03" height="1.03" fill="#ec0000"/>
<rect x="6" y="15" width="1.03" height="1.03" fill="#ff0800"/>
<rect x="7" y="15" width="1.03" height="1.03" fill="#ff3200"/>
<rect x="8" y="15" width="1.03" height="1.03" fill="#ff3e00"/>
<rect x="9" y="15" width="1.03" height="1.03" fill="#ff5000"/>
<rect x="10" y="15" width="1.03" height="1.03" fill="#ff5900"/>
<rect x="11" y="15" width="1.03" height="1.03" fill="#ff5000"/>
<rect x="12" y="15" width="1.03" height="1.03" fill="#ff5300"/>
<rect x="13" y="15" width="1.03" height="1.03" fill="#ff5900"/>
<rect x="14" y="15" width="1.03" height="1.03" fill="#ff5000"/>
<rect x="15" y="15" width="1.03" height="1.03" fill="#ff5800"/>
<rect x="16" y="15" width="1.03" height="1.03" fill="#ff4f00"/>
<rect x="17" y="15" width="1.03" height="1.03" fill="#ff3b00"/>
<rect x="18" y="15" width="1.03" height="1.03" fill="#ff2f00"/>
<rect x="19" y="15" width="1.03" height="1.03" fill="#ff1d00"/>
<rect x="20" y="15" width="1.03" height="1.03" fill="#f20000"/>
<rect x="21" y="15" width="1.03" height="1.03" fill="#c70000"/>
<rect x="22" y="15" width="1.03" height="1.03" fill="#8b0000"/>
<rect x="23" y="15" width="4.03" height="1.03" fill="#800000"/>
<rect x="0" y="16" width="3.03" height="1.03" fill="#800000"/>
<rect x="3" y="16" width="1.03" height="1.03" fill="#8a0000"/>
<rect x="4" y="16" width="1.03" height="1.03" fill="#c90000"/>
<rect x="5" y="16" width="1.03" height="1.03" fill="#fc0000"/>
<rect x="6" y="16" width="1.03" height="1.03" fill="#ff1c00"/>
<rect x="7" y="16" width="1.03" height="1.03" fill="#ff3f00"/>
<rect x="8" y="16" width="1.03" height="1.03" fill="#ff4f00"/>
<rect x="9" y="16" width="2.03" height="1.03" fill="#ff6600"/>
<rect x="11" y="16" width="1.03" height="1.03" fill="#ff5d00"/>
<rect x="12" y="16" width="1.03" height="1.03" fill="#ff6b00"/>
<rect x="13" y="16" width="1.03" height="1.03" fill="#ff6c00"/>
<rect x="14" y="16" width="1.03" height="1.03" fill="#ff6100"/>
<rect x="15" y="16" width="1.03" height="1.03" fill="#ff5300"/>
<rect x="16" y="16" width="1.03" height="1.03" fill="#ff4e00"/>
<rect x="17" y="16" width="1.03" height="1.03" fill="#ff4f00"/>
<rect x="18" y="16" width="1.03" height="1.03" fill="#ff4000"/>
<rect x="19" y="16" width="1.03" height="1.03" fill="#ff2600"/>
<rect x="20" y="16" width="1.03" height="1.03" fill="#ff0b00"/>
<rect x="21" y="16" width="1.03" height="1.03" fill="#da0000"/>
<rect x="22" y="16" width="1.03" height="1.03" fill="#a70000"/>
<rect x="23" y="16" width="4.03" height="1.03" fill="#800000"/>
<rect x="0" y="17" width="3.03" height="1.03" fill="#800000"/>
<rect x="3" y="17" width="1.03" height="1.03" fill="#b70000"/>
<rect x="4" y="17" width="1.03" height="1.03" fill="#eb0000"/>
<rect x="5" y="17" width="1.03" height="1.03" fill="#ff1100"/>
<rect x="6" y="17" width="1.03" height="1.03" fill="#ff3700"/>
<rect x="7" y="17" width="1.03" height="1.03" fill="#ff5500"/>
<rect x="8" y="17" width="1.03" height="1.03" fill="#ff5c00"/>
<rect x="9" y="17" width="1.03" height="1.03" fill="#ff7700"/>
<rect x="10" y="17" width="1.03" height="1.03" fill="#ff7c00"/>
<rect x="11" y="17" width="1.03" height="1.03" fill="#ff7f00"/>
<rect x="12" y="17" width="1.03" height="1.03" fill="#ff8000"/>
<rect x="13" y="17" width="1.03" height="1.03" fill="#ff7b00"/>
<rect x="14" y="17" width="1.03" height="1.03" fill="#ff7300"/>
<rect x="15" y="17" width="1.03" height="1.03" fill="#ff6a00"/>
<rect x="16" y="17" width="1.03" height="1.03" fill="#ff6800"/>
<rect x="17" y="17" width="1.03" height="1.03" fill="#ff6100"/>
<rect x="18" y="17" width="1.03" height="1.03" fill="#ff5900"/>
<rect x="19" y="17" width="1.03" height="1.03" fill="#ff3c00"/>
<rect x="20" y="17" width="1.03" height="1.03" fill="#ff2200"/>
<rect x="21" y="17" width="1.03" height="1.03" fill="#f50000"/>
<rect x="22" y="17" width="1.03" height="1.03" fill="#be0000"/>
<rect x="23" y="17" width="1.03" height="1.03" fill="#860000"/>
<rect x="24" y="17" width="3.03" height="1.03" fill="#800000"/>
<rect x="0" y="18" width="2.03" height="1.03" fill="#800000"/>
<rect x="2" y="18" width="1.03" height="1.03" fill="#ad0000"/>
<rect x="3" y="18" width="1.03" height="1.03" fill="#db0000"/>
<rect x="4" y="18" width="1.03" height="1.03" fill="#ff1800"/>
<rect x="5" y="18" width="1.03" height="1.03" fill="#ff3600"/>
<rect x="6" y="18" width="1.03" height="1.03" fill="#ff5900"/>
<rect x="7" y="18" width="1.03" height="1.03" fill="#ff6200"/>
<rect x="8" y="18" width="1.03" height="1.03" fill="#ff7a00"/>
<rect x="9" y="18" width="1.03" height="1.03" fill="#ff8800"/>
<rect x="10" y="18" width="1.03" height="1.03" fill="#ff9200"/>
<rect x="11" y="18" width="1.03" height="1.03" fill="#ff9800"/>
<rect x="12" y="18" width="1.03" height="1.03" fill="#ff9a00"/>
<rect x="13" y="18" width="1.03" height="1.03" fill="#ffa300"/>
<rect x="14" y="18" width="1.03" height="1.03" fill="#ff9600"/>
<rect x="15" y="18" width="1.03" height="1.03" fill="#ff8e00"/>
<rect x="16" y="18" width="1.03" height="1.03" fill="#ff9100"/>
<rect x="17" y="18" width="1.03" height="1.03" fill="#ff7800"/>
<rect x="18" y="18" width="1.03" height="1.03" fill="#ff6900"/>
<rect x="19" y="18" width="1.03" height="1.03" fill="#ff6000"/>
<rect x="20" y="18" width="1.03" height="1.03" fill="#ff3d00"/>
<rect x="21" y="18" width="1.03" height="1.03" fill="#ff1800"/>
<rect x="22" y="18" width="1.03" height="1.03" fill="#ec0000"/>
<rect x="23" y="18" width="1.03" height="1.03" fill="#b10000"/>
<rect x="24" y="18" width="3.03" height="1.03" fill="#800000"/>
<rect x="0" y="19" width="1.03" height="1.03" fill="#800000"/>
<rect x="1" y="19" width="1.03" height="1.03" fill="#b80000"/>
<rect x="2" y="19" width="1.03" height="1.03" fill="#f20000"/>
<rect x="3" y="19" width="1.03" height="1.03" fill="#ff1b00"/>
<rect x="4" y="19" width="1.03" height="1.03" fill="#ff5000"/>
<rect x="5" y="19" width="1.03" height="1.03" fill="#ff5e00"/>
<rect x="6" y="19" width="1.03" height="1.03" fill="#ff7e00"/>
<rect x="7" y="19" width="1.03" height="1.03" fill="#ff9900"/>
<rect x="8" y="19" width="1.03" height="1.03" fill="#ffa600"/>
<rect x="9" y="19" width="1.03" height="1.03" fill="#ffbc00"/>
<rect x="10" y="19" width="1.03" height="1.03" fill="#ffc900"/>
<rect x="11" y="19" width="1.03" height="1.03" fill="#ffc600"/>
<rect x="12" y="19" width="1.03" height="1.03" fill="#ffcd00"/>
<rect x="13" y="19" width="1.03" height="1.03" fill="#ffc400"/>
<rect x="14" y="19" width="1.03" height="1.03" fill="#ffca00"/>
<rect x="15" y="19" width="1.03" height="1.03" fill="#ffc500"/>
<rect x="16" y="19" width="1.03" height="1.03" fill="#ffb900"/>
<rect x="17" y="19" width="1.03" height="1.03" fill="#ff9c00"/>
<rect x="18" y="19" width="1.03" height="1.03" fill="#ff9500"/>
<rect x="19" y="19" width="1.03" height="1.03" fill="#ff8300"/>
<rect x="20" y="19" width="1.03" height="1.03" fill="#ff6c00"/>
<rect x="21" y="19" width="1.03" height="1.03" fill="#ff4d00"/>
<rect x="22" y="19" width="1.03" height="1.03" fill="#ff2200"/>
<rect x="23" y="19" width="1.03" height="1.03" fill="#f00000"/>
<rect x="24" y="19" width="1.03" height="1.03" fill="#b60000"/>
<rect x="25" y="19" width="2.03" height="1.03" fill="#800000"/>
<rect x="0" y="20" width="1.03" height="1.03" fill="#d80000"/>
<rect x="1" y="20" width="1.03" height="1.03" fill="#ff1400"/>
<rect x="2" y="20" width="1.03" height="1.03" fill="#ff4b00"/>
<rect x="3" y="20" width="1.03" height="1.03" fill="#ff6900"/>
<rect x="4" y="20" width="1.03" height="1.03" fill="#ff7e00"/>
<rect x="5" y="20" width="1.03" height="1.03" fill="#ff9b00"/>
<rect x="6" y="20" width="1.03" height="1.03" fill="#ffab00"/>
<rect x="7" y="20" width="1.03" height="1.03" fill="#ffc700"/>
<rect x="8" y="20" width="1.03" height="1.03" fill="#ffca00"/>
<rect x="9" y="20" width="1.03" height="1.03" fill="#ffdc00"/>
<rect x="10" y="20" width="1.03" height="1.03" fill="#ffea00"/>
<rect x="11" y="20" width="1.03" height="1.03" fill="#fff100"/>
<rect x="12" y="20" width="1.03" height="1.03" fill="#f8ff07"/>
<rect x="13" y="20" width="1.03" height="1.03" fill="#fffd00"/>
<rect x="14" y="20" width="1.03" height="1.03" fill="#fffc00"/>
<rect x="15" y="20" width="2.03" height="1.03" fill="#ffe400"/>
<rect x="17" y="20" width="1.03" height="1.03" fill="#ffd700"/>
<rect x="18" y="20" width="1.03" height="1.03" fill="#ffbd00"/>
<rect x="19" y="20" width="1.03" height="1.03" fill="#ffb400"/>
<rect x="20" y="20" width="1.03" height="1.03" fill="#ff8f00"/>
<rect x="21" y="20" width="1.03" height="1.03" fill="#ff8100"/>
<rect x="22" y="20" width="1.03" height="1.03" fill="#ff5e00"/>
<rect x="23" y="20" width="1.03" height="1.03" fill="#ff3f00"/>
<rect x="24" y="20" width="1.03" height="1.03" fill="#ff0900"/>
<rect x="25" y="20" width="1.03" height="1.03" fill="#e30000"/>
<rect x="26" y="20" width="1.03" height="1.03" fill="#930000"/>
<rect x="0" y="21" width="1.03" height="1.03" fill="#ff2a00"/>
<rect x="1" y="21" width="1.03" height="1.03" fill="#ff5800"/>
<rect x="2" y="21" width="1.03" height="1.03" fill="#ff8800"/>
<rect x="3" y="21" width="1.03" height="1.03" fill="#ffa100"/>
<rect x="4" y="21" width="1.03" height="1.03" fill="#ffbc00"/>
<rect x="5" y="21" width="1.03" height="1.03" fill="#ffce00"/>
<rect x="6" y="21" width="1.03" height="1.03" fill="#ffe200"/>
<rect x="7" y="21" width="1.03" height="1.03" fill="#fff000"/>
<rect x="8" y="21" width="1.03" height="1.03" fill="#fffd00"/>
<rect x="9" y="21" width="1.03" height="1.03" fill="#ebff14"/>
<rect x="10" y="21" width="1.03" height="1.03" fill="#d9ff26"/>
<rect x="11" y="21" width="1.03" height="1.03" fill="#ceff31"/>
<rect x="12" y="21" width="1.03" height="1.03" fill="#d2ff2d"/>
<rect x="13" y="21" width="1.03" height="1.03" fill="#caff35"/>
<rect x="14" y="21" width="1.03" height="1.03" fill="#d5ff2a"/>
<rect x="15" y="21" width="1.03" height="1.03" fill="#d8ff27"/>
<rect x="16" y="21" width="1.03" height="1.03" fill="#dfff20"/>
<rect x="17" y="21" width="1.03" height="1.03" fill="#faff05"/>
<rect x="18" y="21" width="1.03" height="1.03" fill="#ffeb00"/>
<rect x="19" y="21" width="1.03" height="1.03" fill="#ffe300"/>
<rect x="20" y="21" width="1.03" height="1.03" fill="#ffd200"/>
<rect x="21" y="21" width="1.03" height="1.03" fill="#ffba00"/>
<rect x="22" y="21" width="1.03" height="1.03" fill="#ff9600"/>
<rect x="23" y="21" width="1.03" height="1.03" fill="#ff7f00"/>
<rect x="24" y="21" width="1.03" height="1.03" fill="#ff5800"/>
<rect x="25" y="21" width="1.03" height="1.03" fill="#ff2400"/>
<rect x="26" y="21" width="1.03" height="1.03" fill="#ef0000"/>
<rect x="0" y="22" width="1.03" height="1.03" fill="#ff7f00"/>
<rect x="1" y="22" width="1.03" height="1.03" fill="#ffad00"/>
<rect x="2" y="22" width="1.03" height="1.03" fill="#ffd000"/>
<rect x="3" y="22" width="1.03" height="1.03" fill="#ffe800"/>
<rect x="4" y="22" width="1.03" height="1.03" fill="#fffe00"/>
<rect x="5" y="22" width="1.03" height="1.03" fill="#f1ff0e"/>
<rect x="6" y="22" width="1.03" height="1.03" fill="#dcff23"/>
<rect x="7" y="22" width="1.03" height="1.03" fill="#d3ff2c"/>
<rect x="8" y="22" width="1.03" height="1.03" fill="#c6ff39"/>
<rect x="9" y="22" width="1.03" height="1.03" fill="#b7ff48"/>
<rect x="10" y="22" width="1.03" height="1.03" fill="#adff52"/>
<rect x="11" y="22" width="1.03" height="1.03" fill="#a6ff59"/>
<rect x="12" y="22" width="1.03" height="1.03" fill="#9aff65"/>
<rect x="13" y="22" width="1.03" height="1.03" fill="#97ff68"/>
<rect x="14" y="22" width="1.03" height="1.03" fill="#93ff6c"/>
<rect x="15" y="22" width="1.03" height="1.03" fill="#a3ff5c"/>
<rect x="16" y="22" width="1.03" height="1.03" fill="#adff52"/>
<rect x="17" y="22" width="1.03" height="1.03" fill="#bbff44"/>
<rect x="18" y="22" width="1.03" height="1.03" fill="#caff35"/>
<rect x="19" y="22" width="1.03" height="1.03" fill="#e5ff1a"/>
<rect x="20" y="22" width="1.03" height="1.03" fill="#fffb00"/>
<rect x="21" y="22" width="1.03" height="1.03" fill="#fff300"/>
<rect x="22" y="22" width="1.03" height="1.03" fill="#ffdf00"/>
<rect x="23" y="22" width="1.03" height="1.03" fill="#ffc300"/>
<rect x="24" y="22" width="1.03" height="1.03" fill="#ffaa00"/>
<rect x="25" y="22" width="1.03" height="1.03" fill="#ff8100"/>
<rect x="26" y="22" width="1.03" height="1.03" fill="#ff5600"/>
<rect x="0" y="23" width="1.03" height="1.03" fill="#ffdb00"/>
<rect x="1" y="23" width="1.03" height="1.03" fill="#fff800"/>
<rect x="2" y="23" width="1.03" height="1.03" fill="#e9ff16"/>
<rect x="3" y="23" width="1.03" height="1.03" fill="#cfff30"/>
<rect x="4" y="23" width="1.03" height="1.03" fill="#b8ff47"/>
<rect x="5" y="23" width="1.03" height="1.03" fill="#aeff51"/>
<rect x="6" y="23" width="1.03" height="1.03" fill="#99ff66"/>
<rect x="7" y="23" width="1.03" height="1.03" fill="#98ff67"/>
<rect x="8" y="23" width="1.03" height="1.03" fill="#86ff79"/>
<rect x="9" y="23" width="1.03" height="1.03" fill="#7dff82"/>
<rect x="10" y="23" width="1.03" height="1.03" fill="#78ff87"/>
<rect x="11" y="23" width="1.03" height="1.03" fill="#6eff91"/>
<rect x="12" y="23" width="1.03" height="1.03" fill="#5effa1"/>
<rect x="13" y="23" width="1.03" height="1.03" fill="#62ff9d"/>
<rect x="14" y="23" width="1.03" height="1.03" fill="#68ff97"/>
<rect x="15" y="23" width="1.03" height="1.03" fill="#66ff99"/>
<rect x="16" y="23" width="1.03" height="1.03" fill="#69ff96"/>
<rect x="17" y="23" width="1.03" height="1.03" fill="#84ff7b"/>
<rect x="18" y="23" width="1.03" height="1.03" fill="#93ff6c"/>
<rect x="19" y="23" width="1.03" height="1.03" fill="#a6ff59"/>
<rect x="20" y="23" width="1.03" height="1.03" fill="#b5ff4a"/>
<rect x="21" y="23" width="1.03" height="1.03" fill="#c7ff38"/>
<rect x="22" y="23" width="1.03" height="1.03" fill="#daff25"/>
<rect x="23" y="23" width="1.03" height="1.03" fill="#f5ff0a"/>
<rect x="24" y="23" width="1.03" height="1.03" fill="#fff500"/>
<rect x="25" y="23" width="1.03" height="1.03" fill="#ffd500"/>
<rect x="26" y="23" width="1.03" height="1.03" fill="#ffb500"/>
<rect x="0" y="24" width="1.03" height="1.03" fill="#cdff32"/>
<rect x="1" y="24" width="1.03" height="1.03" fill="#adff52"/>
<rect x="2" y="24" width="1.03" height="1.03" fill="#9cff63"/>
<rect x="3" y="24" width="1.03" height="1.03" fill="#78ff87"/>
<rect x="4" y="24" width="1.03" height="1.03" fill="#75ff8a"/>
<rect x="5" y="24" width="1.03" height="1.03" fill="#64ff9b"/>
<rect x="6" y="24" width="2.03" height="1.03" fill="#56ffa9"/>
<rect x="8" y="24" width="1.03" height="1.03" fill="#48ffb7"/>
<rect x="9" y="24" width="1.03" height="1.03" fill="#3dffc2"/>
<rect x="10" y="24" width="1.03" height="1.03" fill="#35ffca"/>
<rect x="11" y="24" width="1.03" height="1.03" fill="#3effc1"/>
<rect x="12" y="24" width="1.03" height="1.03" fill="#34ffcb"/>
<rect x="13" y="24" width="1.03" height="1.03" fill="#32ffcd"/>
<rect x="14" y="24" width="1.03" height="1.03" fill="#2cffd3"/>
<rect x="15" y="24" width="1.03" height="1.03" fill="#3cffc3"/>
<rect x="16" y="24" width="1.03" height="1.03" fill="#3fffc0"/>
<rect x="17" y="24" width="1.03" height="1.03" fill="#44ffbb"/>
<rect x="18" y="24" width="1.03" height="1.03" fill="#51ffae"/>
<rect x="19" y="24" width="1.03" height="1.03" fill="#55ffaa"/>
<rect x="20" y="24" width="1.03" height="1.03" fill="#70ff8f"/>
<rect x="21" y="24" width="1.03" height="1.03" fill="#74ff8b"/>
<rect x="22" y="24" width="1.03" height="1.03" fill="#8fff70"/>
<rect x="23" y="24" width="1.03" height="1.03" fill="#99ff66"/>
<rect x="24" y="24" width="1.03" height="1.03" fill="#acff53"/>
<rect x="25" y="24" width="1.03" height="1.03" fill="#caff35"/>
<rect x="26" y="24" width="1.03" height="1.03" fill="#e6ff19"/>
<rect x="0" y="25" width="1.03" height="1.03" fill="#61ff9e"/>
<rect x="1" y="25" width="1.03" height="1.03" fill="#55ffaa"/>
<rect x="2" y="25" width="1.03" height="1.03" fill="#48ffb7"/>
<rect x="3" y="25" width="1.03" height="1.03" fill="#33ffcc"/>
<rect x="4" y="25" width="1.03" height="1.03" fill="#1effe1"/>
<rect x="5" y="25" width="1.03" height="1.03" fill="#16ffe9"/>
<rect x="6" y="25" width="1.03" height="1.03" fill="#06fff9"/>
<rect x="7" y="25" width="1.03" height="1.03" fill="#00feff"/>
<rect x="8" y="25" width="1.03" height="1.03" fill="#00fbff"/>
<rect x="9" y="25" width="1.03" height="1.03" fill="#00f6ff"/>
<rect x="10" y="25" width="1.03" height="1.03" fill="#00f2ff"/>
<rect x="11" y="25" width="1.03" height="1.03" fill="#00e8ff"/>
<rect x="12" y="25" width="1.03" height="1.03" fill="#00f3ff"/>
<rect x="13" y="25" width="2.03" height="1.03" fill="#00f0ff"/>
<rect x="15" y="25" width="1.03" height="1.03" fill="#00f6ff"/>
<rect x="16" y="25" width="1.03" height="1.03" fill="#05fffa"/>
<rect x="17" y="25" width="1.03" height="1.03" fill="#00f7ff"/>
<rect x="18" y="25" width="1.03" height="1.03" fill="#00fdff"/>
<rect x="19" y="25" width="1.03" height="1.03" fill="#15ffea"/>
<rect x="20" y="25" width="1.03" height="1.03" fill="#17ffe8"/>
<rect x="21" y="25" width="1.03" height="1.03" fill="#2fffd0"/>
<rect x="22" y="25" width="1.03" height="1.03" fill="#30ffcf"/>
<rect x="23" y="25" width="1.03" height="1.03" fill="#43ffbc"/>
<rect x="24" y="25" width="1.03" height="1.03" fill="#5cffa3"/>
<rect x="25" y="25" width="1.03" height="1.03" fill="#70ff8f"/>
<rect x="26" y="25" width="1.03" height="1.03" fill="#83ff7c"/>
<rect x="0" y="26" width="1.03" height="1.03" fill="#16ffe9"/>
<rect x="1" y="26" width="1.03" height="1.03" fill="#07fff8"/>
<rect x="2" y="26" width="1.03" height="1.03" fill="#00f8ff"/>
<rect x="3" y="26" width="1.03" height="1.03" fill="#00ecff"/>
<rect x="4" y="26" width="1.03" height="1.03" fill="#00e7ff"/>
<rect x="5" y="26" width="1.03" height="1.03" fill="#00d7ff"/>
<rect x="6" y="26" width="1.03" height="1.03" fill="#00c7ff"/>
<rect x="7" y="26" width="1.03" height="1.03" fill="#00c1ff"/>
<rect x="8" y="26" width="2.03" height="1.03" fill="#00beff"/>
<rect x="10" y="26" width="1.03" height="1.03" fill="#00b6ff"/>
<rect x="11" y="26" width="1.03" height="1.03" fill="#00b8ff"/>
<rect x="12" y="26" width="1.03" height="1.03" fill="#00bdff"/>
<rect x="13" y="26" width="1.03" height="1.03" fill="#00ccff"/>
<rect x="14" y="26" width="1.03" height="1.03" fill="#00bfff"/>
<rect x="15" y="26" width="1.03" height="1.03" fill="#00c6ff"/>
<rect x="16" y="26" width="1.03" height="1.03" fill="#00b7ff"/>
<rect x="17" y="26" width="1.03" height="1.03" fill="#00c6ff"/>
<rect x="18" y="26" width="1.03" height="1.03" fill="#00bcff"/>
<rect x="19" y="26" width="1.03" height="1.03" fill="#00c4ff"/>
<rect x="20" y="26" width="1.03" height="1.03" fill="#00cfff"/>
<rect x="21" y="26" width="1.03" height="1.03" fill="#00dcff"/>
<rect x="22" y="26" width="1.03" height="1.03" fill="#00ebff"/>
<rect x="23" y="26" width="1.03" height="1.03" fill="#00fbff"/>
<rect x="24" y="26" width="1.03" height="1.03" fill="#0afff5"/>
<rect x="25" y="26" width="1.03" height="1.03" fill="#16ffe9"/>
<rect x="26" y="26" width="1.03" height="1.03" fill="#38ffc7"/>
</g>
<text x="1145.2" y="419.4" font-size="24.4" fill="#111" textLength="116" lengthAdjust="spacingAndGlyphs">Simulation</text>
<text x="1151.6" y="835" font-size="24.4" fill="#111" textLength="152.8" lengthAdjust="spacingAndGlyphs">Measurement</text>
<defs><linearGradient id="jet" x1="0" y1="1" x2="0" y2="0"><stop offset="0" stop-color="#00008f"/><stop offset="0.125" stop-color="#0000ff"/><stop offset="0.375" stop-color="#00ffff"/><stop offset="0.625" stop-color="#ffff00"/><stop offset="0.875" stop-color="#ff0000"/><stop offset="1" stop-color="#800000"/></linearGradient></defs>
<rect x="1411.0" y="64.6" width="37.3" height="746.9" fill="url(#jet)" stroke="#444" stroke-opacity="0.55" stroke-width="1"/>
<path d="M1448.3 662.12h-4.5M1448.3 512.74h-4.5M1448.3 363.36h-4.5M1448.3 213.98h-4.5" stroke="#222" stroke-width="1.2"/>
<g font-size="23" fill="#111">
<text x="1467.4" y="815">0</text>
<text x="1462.3" y="668.12">0.5</text>
<text x="1462.3" y="521.14">1</text>
<text x="1462.3" y="371.76">1.5</text>
<text x="1462.3" y="222.38">2</text>
<text x="1462.3" y="78.4">2.5</text>
</g>
<text x="1402.5" y="58.2" font-size="23" fill="#111">x 10<tspan dx="2.5" dy="-10.5" font-size="19">-5</tspan></text>
</g>
</svg></body></html>
